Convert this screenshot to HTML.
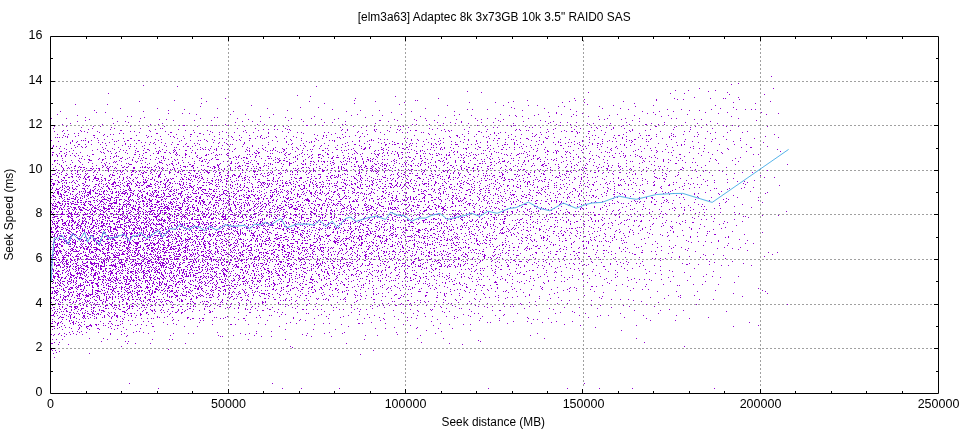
<!DOCTYPE html><html><head><meta charset="utf-8"><title>Seek plot</title><style>html,body{margin:0;padding:0;background:#fff;width:960px;height:432px;overflow:hidden}svg{display:block}text{font-family:"Liberation Sans",Arial,sans-serif;font-size:12.5px;fill:#000}</style></head><body><svg width="960" height="432" viewBox="0 0 960 432"><rect width="960" height="432" fill="#fff"/><path d="M228.5 40v348M405.5 40v348M583.5 40v348M760.5 40v348M54 348.5h878M54 304.5h878M54 259.5h878M54 214.5h878M54 170.5h878M54 125.5h878M54 81.5h878" stroke="#a0a0a0" stroke-width="1" stroke-dasharray="2 2" fill="none"/><g stroke="#9400d3" stroke-width="1" fill="none"><path d="M771 76.5h1" stroke-dasharray="1 960"/><path d="M738 83.5h1" stroke-dasharray="1 960"/><path d="M731 84.5h1" stroke-dasharray="1 960"/><path d="M143 85.5h1" stroke-dasharray="1 960"/><path d="M177 86.5h140" stroke-dasharray="1 138 1 960"/><path d="M699 88.5h75" stroke-dasharray="1 73 1 960"/><path d="M675 90.5h41" stroke-dasharray="1 12 1 26 1 960"/><path d="M467 91.5h242" stroke-dasharray="1 240 1 960"/><path d="M481 92.5h247" stroke-dasharray="1 106 1 138 1 960"/><path d="M108 93.5h577" stroke-dasharray="1 561 1 13 1 960"/><path d="M729 94.5h36" stroke-dasharray="1 34 1 960"/><path d="M297 95.5h1" stroke-dasharray="1 960"/><path d="M310 96.5h86" stroke-dasharray="1 84 1 960"/><path d="M694 97.5h45" stroke-dasharray="1 43 1 960"/><path d="M201 98.5h525" stroke-dasharray="1 23 1 129 1 82 1 135 1 99 1 35 1 12 1 1 1 960"/><path d="M584 99.5h156" stroke-dasharray="1 71 1 20 1 5 1 55 1 960"/><path d="M174 100.5h483" stroke-dasharray="1 179 1 60 1 1 1 109 1 47 1 80 1 960"/><path d="M139 101.5h632" stroke-dasharray="1 66 1 102 1 65 1 137 1 55 1 53 1 146 1 960"/><path d="M404 102.5h330" stroke-dasharray="1 64 1 25 1 12 1 53 1 21 1 148 1 960"/><path d="M201 103.5h555" stroke-dasharray="1 122 1 29 1 279 1 120 1 960"/><path d="M75 104.5h513" stroke-dasharray="1 31 1 291 1 187 1 960"/><path d="M251 105.5h465" stroke-dasharray="1 195 1 55 1 24 1 8 1 75 1 39 1 61 1 960"/><path d="M200 106.5h436" stroke-dasharray="1 357 1 5 1 34 1 35 1 960"/><path d="M300 107.5h434" stroke-dasharray="1 17 1 192 1 221 1 960"/><path d="M120 108.5h601" stroke-dasharray="1 36 1 59 1 49 1 157 1 88 1 29 1 57 1 17 1 99 1 960"/><path d="M184 109.5h572" stroke-dasharray="1 147 1 134 1 4 1 14 1 82 1 57 1 38 1 13 1 29 1 24 1 8 1 5 1 3 1 960"/><path d="M94 110.5h606" stroke-dasharray="1 73 1 118 1 72 1 18 1 142 1 166 1 9 1 960"/><path d="M60 111.5h614" stroke-dasharray="1 82 1 89 1 112 1 64 1 42 1 121 1 65 1 16 1 13 1 960"/><path d="M96 112.5h666" stroke-dasharray="1 8 1 285 1 156 1 7 1 96 1 51 1 21 1 33 1 960"/><path d="M168 113.5h611" stroke-dasharray="1 13 1 6 1 366 1 25 1 64 1 70 1 59 1 960"/><path d="M57 114.5h710" stroke-dasharray="1 138 1 33 1 14 1 27 1 83 1 43 1 57 1 40 1 37 1 22 1 11 1 43 1 37 1 31 1 78 1 960"/><path d="M77 115.5h592" stroke-dasharray="1 273 1 20 1 9 1 55 1 15 1 16 1 37 1 5 1 18 1 41 1 32 1 24 1 33 1 960"/><path d="M127 116.5h605" stroke-dasharray="1 3 1 128 1 53 1 105 1 95 1 5 1 26 1 21 1 16 1 9 1 62 1 69 1 960"/><path d="M85 117.5h361" stroke-dasharray="1 58 1 69 1 2 1 51 1 15 1 79 1 79 1 960"/><path d="M51 118.5h688" stroke-dasharray="1 14 1 45 1 27 1 59 1 36 1 53 1 19 1 26 1 86 1 49 1 11 1 7 1 32 1 78 1 17 1 13 1 31 1 4 1 61 1 960"/><path d="M89 119.5h613" stroke-dasharray="1 69 1 6 1 81 1 52 1 19 1 12 1 59 1 19 1 41 1 24 1 21 1 95 1 4 1 16 1 72 1 6 1 960"/><path d="M85 120.5h672" stroke-dasharray="1 87 1 20 1 16 1 76 1 90 2 16 1 18 1 9 1 7 1 42 1 20 1 41 1 91 1 123 1 960"/><path d="M77 121.5h634" stroke-dasharray="1 39 1 7 1 13 1 102 1 9 1 7 1 42 1 41 1 42 1 72 1 38 1 22 1 21 1 7 1 85 1 70 1 960"/><path d="M128 122.5h558" stroke-dasharray="1 106 1 88 1 7 1 104 1 12 1 10 1 19 1 11 1 56 1 9 1 6 1 8 1 49 1 37 1 20 1 960"/><path d="M70 123.5h648" stroke-dasharray="1 42 1 48 1 212 1 67 1 11 1 12 1 44 1 34 1 38 1 5 1 16 1 40 1 45 1 19 1 960"/><path d="M62 124.5h645" stroke-dasharray="1 39 1 47 1 7 1 66 1 31 1 6 1 50 1 26 1 2 1 66 1 3 1 12 1 126 1 13 1 18 1 39 1 15 2 11 1 5 1 41 1 960"/><path d="M179 125.5h554" stroke-dasharray="1 3 2 22 1 4 1 3 1 11 1 46 1 30 2 14 1 117 1 36 1 29 1 5 1 1 1 19 1 24 1 48 1 13 1 57 1 41 1 8 1 960"/><path d="M54 126.5h714" stroke-dasharray="1 11 1 26 1 6 1 29 1 17 1 15 1 32 1 46 1 29 1 8 1 4 1 64 1 12 1 7 1 23 1 1 1 2 1 81 1 25 1 13 1 50 1 23 1 20 1 33 2 19 1 18 1 30 1 11 1 28 1 960"/><path d="M81 127.5h621" stroke-dasharray="1 29 1 228 1 20 1 28 1 17 1 60 1 23 1 3 1 31 1 2 1 7 1 30 1 19 1 4 1 9 1 6 1 60 1 15 1 10 1 960"/><path d="M53 128.5h660" stroke-dasharray="1 38 1 21 1 25 1 19 1 1 1 74 1 17 1 29 1 143 1 7 1 117 1 24 1 16 1 15 1 10 1 87 1 960"/><path d="M88 129.5h603" stroke-dasharray="1 21 1 44 1 22 1 84 1 4 1 5 1 2 1 9 1 1 1 52 1 4 1 26 1 1 1 20 1 2 1 31 1 11 1 19 1 22 1 28 1 2 1 27 1 5 1 20 1 36 1 20 1 17 1 22 1 16 1 960"/><path d="M63 130.5h668" stroke-dasharray="1 3 1 12 1 39 2 27 1 35 1 7 1 13 1 37 1 12 1 31 1 50 1 5 1 18 1 7 1 12 1 11 1 10 1 4 2 24 1 6 1 2 1 63 1 4 1 5 1 1 1 35 1 29 1 6 1 27 1 2 1 12 1 84 1 960"/><path d="M54 131.5h694" stroke-dasharray="1 7 1 18 1 2 1 12 1 32 1 3 1 15 1 14 1 44 1 11 1 20 1 38 1 75 1 16 1 13 1 55 1 3 1 18 1 9 2 6 1 61 1 12 1 4 1 4 2 3 1 11 2 40 1 29 1 23 1 4 1 17 1 39 1 960"/><path d="M87 132.5h656" stroke-dasharray="1 11 1 39 1 30 2 22 1 17 1 6 1 6 1 7 1 11 1 6 1 14 1 19 1 8 1 3 1 22 1 3 1 16 1 11 1 22 1 15 1 5 1 4 1 13 1 1 1 57 1 12 1 5 1 4 1 34 1 5 1 30 1 1 1 25 1 20 1 70 1 17 1 11 1 14 1 960"/><path d="M64 133.5h647" stroke-dasharray="1 9 1 3 1 40 1 3 1 32 2 41 2 67 1 34 1 31 1 26 1 65 1 39 1 25 1 3 1 33 1 20 1 23 1 10 1 50 1 31 1 38 1 960"/><path d="M57 134.5h718" stroke-dasharray="1 10 1 35 1 5 1 2 1 54 1 7 1 13 2 11 1 5 1 9 1 94 1 16 1 10 1 24 1 16 1 44 1 5 1 26 1 13 1 13 1 20 1 9 1 14 1 4 1 62 1 18 1 32 1 16 1 9 1 14 1 75 1 960"/><path d="M63 135.5h609" stroke-dasharray="1 14 1 14 2 8 1 32 1 9 1 81 1 10 1 9 1 11 1 55 1 5 1 2 1 28 1 58 1 41 2 38 1 11 1 26 1 56 1 2 1 18 1 3 2 20 1 5 1 1 2 21 1 960"/><path d="M65 136.5h701" stroke-dasharray="1 1 1 7 1 31 1 40 1 2 1 8 1 9 1 2 1 9 1 6 1 6 1 16 1 16 1 25 1 2 1 7 1 6 1 10 1 6 1 29 1 21 1 3 1 10 1 3 1 84 1 7 1 6 1 9 1 8 1 4 1 26 1 16 1 1 1 13 1 26 1 10 1 39 1 29 1 12 1 3 1 1 1 18 1 2 1 25 1 41 1 960"/><path d="M55 137.5h724" stroke-dasharray="1 1 1 1 1 2 1 4 1 26 1 52 1 26 1 57 1 8 1 18 1 5 1 9 1 19 1 29 1 10 1 1 1 3 1 15 1 90 1 8 1 26 1 21 1 30 1 5 1 8 1 10 1 23 1 8 1 14 1 8 1 15 1 30 1 108 1 960"/><path d="M85 138.5h670" stroke-dasharray="1 11 1 25 1 6 2 45 1 6 1 34 1 2 1 26 2 4 1 6 1 1 1 19 1 16 1 13 1 6 1 17 1 37 1 25 1 2 1 23 1 7 1 3 1 45 1 4 1 3 2 20 1 5 2 18 2 67 1 6 1 19 1 8 1 10 1 42 1 9 1 24 1 13 1 960"/><path d="M104 139.5h623" stroke-dasharray="1 7 1 42 1 5 1 42 1 7 1 13 1 6 1 5 1 50 1 25 1 54 1 8 1 3 1 2 1 23 1 5 1 8 1 7 1 29 1 3 1 36 1 5 1 1 1 14 1 31 1 8 1 19 1 4 1 7 1 23 1 7 2 10 1 3 1 20 1 13 1 26 1 13 1 960"/><path d="M51 140.5h690" stroke-dasharray="1 20 1 8 1 1 1 1 1 5 1 6 1 19 1 8 2 5 1 3 2 18 1 22 1 8 1 7 1 1 1 5 1 7 1 21 1 3 1 8 1 22 1 18 1 9 1 16 1 10 1 2 1 1 1 24 1 9 1 1 1 1 1 37 1 6 1 21 1 27 1 7 1 16 1 3 1 18 1 14 1 7 1 42 1 26 1 19 1 1 1 108 1 960"/><path d="M58 141.5h676" stroke-dasharray="1 13 1 4 1 10 1 25 1 1 1 7 1 54 1 27 1 69 1 8 1 19 1 4 1 2 1 19 1 17 1 6 1 7 1 24 1 30 1 14 1 12 1 8 1 15 1 10 1 48 1 6 1 14 1 15 1 7 1 19 1 4 1 4 1 3 1 9 1 5 1 13 1 1 1 35 1 7 1 18 1 21 1 960"/><path d="M70 142.5h694" stroke-dasharray="1 5 1 11 1 9 1 3 1 6 1 31 1 3 1 4 1 3 1 6 1 10 1 40 1 5 1 4 1 19 1 23 1 17 1 22 1 1 1 35 1 30 1 5 1 9 1 11 1 21 1 14 1 11 1 7 1 16 1 6 1 17 1 8 1 5 1 22 1 9 1 4 1 1 1 7 1 2 1 7 1 9 1 41 1 44 1 21 1 64 1 960"/><path d="M70 143.5h589" stroke-dasharray="1 34 1 19 1 10 1 16 1 11 1 20 1 7 1 2 1 20 1 7 1 17 1 47 1 10 1 20 1 20 1 18 1 16 1 7 1 7 2 3 1 7 1 1 1 3 1 14 1 3 1 4 1 36 1 19 1 16 1 50 1 11 1 14 1 4 2 3 1 55 1 960"/><path d="M66 144.5h681" stroke-dasharray="1 11 2 5 1 5 1 8 1 13 1 10 1 4 1 18 1 5 1 15 1 5 2 6 1 13 1 27 1 2 1 1 1 10 1 24 1 19 1 2 1 50 1 11 2 13 1 15 2 5 1 1 2 6 1 6 1 14 1 6 1 4 1 2 1 11 1 3 3 9 1 3 1 3 1 28 2 1 1 6 1 2 1 5 1 14 1 2 1 13 1 18 1 4 1 12 1 7 1 19 1 3 1 9 1 31 1 14 1 2 1 34 1 14 1 11 1 960"/><path d="M53 145.5h652" stroke-dasharray="1 20 1 31 1 15 1 21 1 19 1 30 1 26 1 29 1 9 1 37 1 3 1 9 1 6 1 6 1 8 1 10 1 10 1 25 1 25 1 21 1 53 1 2 1 11 1 27 1 4 1 24 2 18 1 7 1 8 1 26 1 5 1 16 1 29 1 3 1 22 1 960"/><path d="M53 146.5h715" stroke-dasharray="1 2 1 3 1 16 1 3 1 4 1 41 1 1 1 3 1 7 1 23 1 16 1 3 2 3 1 18 1 6 1 10 1 12 1 9 1 52 1 7 1 6 1 24 1 15 1 8 1 38 1 6 1 5 1 35 1 19 1 19 1 22 1 4 1 41 1 1 1 11 1 2 1 15 1 14 1 23 1 26 1 25 1 73 1 960"/><path d="M52 147.5h700" stroke-dasharray="1 22 1 6 1 2 1 16 1 15 1 40 1 14 1 1 1 23 1 4 1 41 1 17 1 9 1 16 1 3 1 38 1 5 1 23 1 3 1 11 1 6 1 10 1 6 2 23 1 1 1 2 1 4 1 2 1 5 1 17 1 10 2 7 1 14 1 5 1 4 1 4 1 11 1 13 1 51 1 9 1 7 1 10 1 28 1 16 1 17 1 50 1 8 2 960"/><path d="M59 148.5h669" stroke-dasharray="1 4 1 6 1 33 1 6 1 16 1 6 1 7 1 10 1 34 1 11 1 7 1 5 1 4 1 13 1 13 1 8 1 3 1 10 1 8 1 3 1 10 1 5 1 15 1 5 1 1 1 25 1 7 1 2 2 3 1 13 1 18 2 36 1 3 1 8 1 9 1 1 2 8 1 11 1 5 1 28 1 14 1 25 1 14 1 7 1 24 1 5 1 26 1 5 1 42 1 5 1 4 1 22 1 960"/><path d="M66 149.5h712" stroke-dasharray="1 30 1 5 1 10 1 5 1 26 2 13 1 11 1 4 1 17 1 2 1 2 1 1 1 2 1 5 1 1 1 7 1 2 1 6 1 11 1 16 1 9 1 9 2 7 1 5 1 11 1 1 1 23 2 10 1 2 1 11 2 16 2 3 1 17 1 3 1 2 1 15 1 2 1 9 1 1 1 23 1 10 1 12 1 10 2 3 1 7 1 18 1 10 1 38 1 15 1 10 1 27 1 26 1 62 1 48 1 960"/><path d="M73 150.5h645" stroke-dasharray="1 18 1 14 1 15 1 2 1 8 1 7 1 5 1 9 1 6 1 6 1 1 1 9 2 5 1 16 1 6 1 12 1 17 1 1 1 6 1 8 1 4 1 1 1 2 1 8 1 17 1 4 1 14 2 4 1 12 1 2 1 1 1 7 1 20 1 2 1 4 1 4 1 25 1 5 1 1 1 11 1 16 1 31 1 1 1 51 1 9 1 7 1 1 1 15 1 7 1 29 1 23 1 15 1 4 1 16 1 43 1 960"/><path d="M60 151.5h721" stroke-dasharray="2 7 1 30 1 7 1 1 1 8 1 17 2 17 1 1 1 1 1 13 1 57 1 12 1 3 1 7 1 9 1 9 1 5 1 11 1 15 1 43 1 18 1 17 1 2 1 20 1 3 1 3 1 29 1 2 1 31 1 4 1 29 1 4 1 6 1 10 2 7 1 1 1 6 1 1 1 22 1 14 1 15 1 11 1 7 1 15 1 4 1 40 1 42 1 33 1 960"/><path d="M52 152.5h670" stroke-dasharray="2 12 1 13 1 20 1 1 1 12 1 8 1 9 1 9 2 11 1 5 2 3 1 3 1 2 1 14 1 3 1 17 1 40 1 3 2 19 1 1 1 4 1 15 1 22 1 6 1 9 1 13 1 26 1 3 1 9 1 3 2 4 1 1 1 39 1 3 1 3 1 8 1 4 1 24 1 1 1 27 1 18 1 7 1 2 1 9 1 2 1 12 1 18 1 5 1 1 1 46 1 11 1 2 1 17 1 18 1 12 1 960"/><path d="M59 153.5h664" stroke-dasharray="1 4 1 7 1 3 1 27 1 6 1 3 1 11 1 15 1 9 1 3 2 11 1 5 1 8 1 9 1 15 1 15 2 26 2 1 1 11 1 1 1 12 1 4 1 10 1 25 1 20 1 5 1 2 1 4 1 8 1 2 1 4 1 2 1 4 1 3 1 5 1 18 2 5 1 1 1 3 1 6 1 1 1 30 1 11 1 1 1 7 1 9 1 9 1 7 1 1 1 1 1 32 1 13 1 18 1 25 1 3 1 3 1 74 1 23 1 960"/><path d="M52 154.5h707" stroke-dasharray="1 3 1 9 1 25 2 40 2 3 1 35 1 1 1 7 2 19 1 1 1 7 1 2 1 1 1 4 1 20 1 1 1 2 1 31 1 3 2 9 1 4 1 2 1 4 1 5 3 6 2 23 1 7 1 14 1 1 2 15 1 3 1 3 1 27 1 1 1 6 1 1 1 4 1 2 1 4 1 5 1 2 1 9 1 1 1 2 1 12 1 12 1 1 1 10 2 8 1 19 1 17 1 10 1 58 1 43 2 31 1 40 1 4 1 960"/><path d="M52 155.5h650" stroke-dasharray="1 4 1 3 1 3 1 4 1 3 1 3 1 8 1 28 1 25 1 7 1 25 1 2 1 5 1 11 1 7 2 8 1 1 1 9 2 10 1 16 1 28 1 11 1 13 1 6 1 3 1 14 1 5 1 34 1 5 1 3 1 9 1 21 1 15 2 8 1 1 2 11 1 4 1 3 1 5 1 9 1 20 1 2 1 5 1 12 1 3 1 1 1 56 1 3 1 15 1 10 1 1 1 4 1 6 1 16 1 17 1 28 1 960"/><path d="M57 156.5h628" stroke-dasharray="1 3 1 3 1 9 1 6 1 6 1 15 1 4 1 3 1 1 1 1 1 20 1 21 1 1 1 25 1 6 1 38 1 2 1 11 1 4 1 3 1 7 2 1 1 24 1 6 1 6 1 13 1 9 1 14 1 12 1 14 1 5 1 15 1 9 1 6 1 4 1 3 1 43 1 21 1 36 1 5 1 27 1 8 1 7 1 19 1 5 1 4 1 10 1 4 1 9 1 3 1 1 1 7 1 34 1 960"/><path d="M113 157.5h628" stroke-dasharray="1 8 1 6 1 3 1 9 1 12 1 6 1 7 1 10 1 2 1 11 1 3 1 13 1 17 1 2 1 1 1 4 2 1 1 8 1 19 1 10 1 6 1 1 1 12 1 3 1 5 2 8 1 3 1 3 3 5 1 6 1 3 1 11 1 9 1 24 1 3 1 2 2 21 1 11 1 5 1 7 1 2 1 2 1 9 1 12 1 10 1 20 1 5 1 13 1 5 1 16 1 3 1 6 1 4 1 5 1 14 1 13 2 9 1 15 1 10 1 3 1 20 1 63 1 960"/><path d="M62 158.5h674" stroke-dasharray="1 16 1 1 1 17 1 5 1 4 1 9 2 5 1 10 1 2 1 3 2 11 1 4 1 1 1 26 1 6 2 11 1 16 2 10 1 4 2 13 1 6 2 1 1 5 1 1 1 4 1 12 1 13 1 9 1 9 2 10 1 3 1 1 1 3 1 1 1 6 1 7 1 2 1 25 1 1 1 11 1 6 2 3 1 15 1 4 1 16 1 9 1 1 1 13 1 2 1 9 1 8 1 1 1 19 1 3 2 17 1 23 1 4 1 4 1 51 1 2 1 11 1 22 1 12 1 16 1 24 1 960"/><path d="M84 159.5h632" stroke-dasharray="1 3 2 8 1 3 2 21 1 6 1 17 1 4 1 12 1 5 1 2 1 26 1 1 1 4 1 4 3 17 1 38 1 2 1 10 1 7 1 7 1 43 1 5 1 6 1 4 2 3 1 2 1 6 1 1 1 2 1 6 1 19 1 12 1 3 1 14 1 34 1 2 1 5 1 8 1 31 1 5 1 2 1 6 1 3 1 2 1 18 1 15 1 3 1 9 1 59 1 4 1 46 1 960"/><path d="M54 160.5h679" stroke-dasharray="2 1 1 4 1 8 1 6 1 10 3 10 1 16 1 12 1 7 1 1 1 18 1 2 1 10 1 6 1 16 1 2 1 6 1 33 1 7 1 2 1 10 1 7 1 5 2 2 2 18 1 14 1 14 1 11 1 22 1 1 1 22 1 2 1 10 1 4 1 9 1 15 2 3 1 11 1 4 1 2 1 6 1 6 1 26 1 8 1 4 1 5 1 3 1 24 1 2 1 9 1 40 1 18 1 16 1 19 1 6 1 7 1 3 1 33 1 15 1 960"/><path d="M54 161.5h685" stroke-dasharray="1 10 1 13 1 34 1 1 1 4 1 13 1 1 1 21 1 12 1 21 1 6 2 2 1 17 1 3 1 3 1 16 1 7 1 22 1 6 2 7 1 7 1 6 2 1 1 4 1 2 1 1 2 2 1 2 1 9 1 2 1 3 1 1 1 6 2 5 1 2 1 3 1 1 1 4 1 13 1 2 1 16 1 9 1 13 1 4 1 1 1 12 1 8 1 17 1 1 1 9 1 4 1 2 3 3 1 15 1 3 1 11 1 3 1 18 1 6 1 9 1 8 1 40 1 1 1 11 1 4 1 4 1 8 1 45 1 28 1 960"/><path d="M63 162.5h633" stroke-dasharray="1 8 1 7 1 7 1 12 1 4 1 6 1 1 1 20 1 8 1 13 3 16 1 4 1 4 1 19 1 22 1 6 1 5 1 5 1 24 1 1 2 10 1 3 1 20 1 9 1 7 2 7 1 9 1 4 1 6 1 18 1 13 1 7 1 1 1 17 2 4 1 4 1 8 1 3 1 6 1 7 2 25 2 6 1 8 1 15 1 37 1 16 1 15 1 9 1 37 1 25 1 16 1 6 1 2 1 960"/><path d="M57 163.5h662" stroke-dasharray="1 34 1 11 1 4 1 16 1 1 1 12 1 7 1 7 1 4 1 8 2 5 1 15 1 12 1 12 1 9 2 3 1 1 1 8 3 8 2 5 1 3 1 1 1 10 1 7 3 9 1 3 1 4 1 19 1 3 1 11 1 16 1 10 1 3 1 2 1 5 1 6 1 4 1 5 1 7 1 4 1 2 1 6 1 18 1 20 1 10 2 1 1 2 1 10 1 3 1 9 1 7 1 14 1 10 1 3 1 22 1 14 1 20 1 10 1 7 1 12 1 35 2 41 1 960"/><path d="M52 164.5h736" stroke-dasharray="1 6 1 10 1 11 1 22 1 11 1 11 3 15 1 18 1 2 1 2 1 3 1 12 2 26 1 1 1 32 1 5 1 11 1 1 1 10 1 5 1 12 2 1 1 7 1 2 1 5 1 10 1 8 1 1 1 1 1 7 1 20 2 5 1 1 2 16 1 2 1 2 1 11 1 4 1 18 1 29 2 15 1 30 1 2 1 16 2 11 1 2 1 8 1 8 1 10 1 11 1 51 1 83 1 51 1 960"/><path d="M61 165.5h645" stroke-dasharray="1 4 1 8 1 20 1 5 1 2 1 15 1 33 1 11 1 5 1 6 1 11 2 7 1 1 1 13 2 10 1 9 1 2 1 2 1 18 1 1 1 22 1 7 1 12 1 16 1 3 1 26 1 2 1 3 1 6 1 7 1 3 1 1 1 2 1 3 1 16 2 3 1 1 1 2 1 10 1 1 1 1 1 7 1 6 2 4 1 4 1 28 1 3 1 10 1 9 1 16 1 1 1 6 2 2 2 27 1 2 1 7 1 7 1 14 1 3 1 5 1 35 1 42 1 7 1 960"/><path d="M55 166.5h699" stroke-dasharray="1 5 1 12 2 3 1 12 1 10 1 3 1 2 1 1 1 11 1 3 1 13 1 2 1 8 1 3 1 24 3 1 1 3 2 14 2 4 2 3 1 8 1 7 1 2 3 6 2 4 1 2 1 6 1 4 1 13 1 36 1 18 1 2 1 9 1 2 2 2 1 1 1 4 2 4 1 1 1 8 1 3 1 14 1 1 1 2 1 4 1 6 1 9 1 7 1 16 1 6 1 5 1 10 2 8 2 17 1 6 1 3 1 3 1 9 1 11 1 14 1 7 1 4 1 24 1 6 1 4 1 9 1 1 1 5 1 6 1 24 1 1 1 3 1 88 1 960"/><path d="M62 167.5h665" stroke-dasharray="1 5 1 2 1 6 1 1 2 1 2 17 1 3 1 2 1 5 1 6 2 2 2 5 2 5 1 1 1 1 2 1 1 1 1 1 1 4 1 2 1 2 1 10 1 6 1 4 1 7 1 3 1 12 1 3 2 2 1 11 1 6 1 21 2 14 1 26 2 2 1 1 1 7 1 8 1 8 1 3 1 2 1 1 1 15 1 1 1 2 1 7 1 5 1 11 1 4 1 32 1 7 1 10 1 4 1 8 1 6 2 3 1 7 1 19 1 48 1 8 1 5 1 5 1 10 1 1 1 13 1 2 1 9 1 7 1 19 1 6 1 35 1 7 1 10 1 24 1 960"/><path d="M53 168.5h631" stroke-dasharray="1 9 1 3 1 1 1 4 1 11 1 3 2 1 1 2 1 1 2 7 2 5 1 1 1 16 2 13 1 10 1 1 1 1 1 3 1 6 1 2 1 15 1 18 1 1 1 4 1 4 1 5 1 4 1 2 1 1 1 6 1 3 1 2 1 1 1 3 1 7 1 3 1 8 1 11 1 1 1 2 1 2 1 7 1 3 1 5 2 10 2 5 1 2 1 2 1 21 2 2 2 3 1 3 1 4 2 6 1 37 1 8 1 14 1 6 1 2 1 7 2 3 1 9 1 2 1 1 1 7 1 9 1 36 1 10 1 15 1 10 2 10 1 8 2 14 1 7 1 17 1 10 1 7 1 15 1 960"/><path d="M56 169.5h640" stroke-dasharray="1 6 1 16 1 3 1 7 1 6 1 8 1 16 1 25 2 2 1 6 1 7 1 1 1 1 1 6 1 19 1 2 1 13 1 2 1 2 1 5 1 11 1 3 1 11 1 17 1 9 1 10 1 15 1 8 1 4 1 13 1 4 1 6 1 5 1 1 2 9 1 3 1 5 1 5 1 9 1 6 1 2 1 2 2 8 1 3 1 23 1 7 1 3 1 4 2 9 1 10 1 16 1 3 1 1 1 6 1 1 1 2 2 12 1 2 1 9 1 28 1 1 1 25 1 12 1 8 1 1 1 11 1 11 1 6 1 17 2 13 1 960"/><path d="M55 170.5h713" stroke-dasharray="1 2 1 5 1 7 1 2 1 1 1 10 3 4 1 3 1 5 1 2 1 4 1 3 1 2 1 2 1 8 2 6 1 6 1 5 1 11 1 17 2 4 1 1 1 1 2 8 1 1 1 3 1 4 1 17 1 9 1 10 1 6 1 17 1 4 1 1 1 9 2 12 1 3 2 7 3 6 1 12 3 23 1 1 1 4 1 7 1 3 1 5 1 5 1 7 1 6 1 7 1 9 1 8 1 1 1 2 1 24 1 8 1 11 1 16 1 7 1 25 1 6 1 20 1 8 1 15 1 10 1 82 1 12 1 13 1 47 1 960"/><path d="M62 171.5h661" stroke-dasharray="1 8 1 5 1 4 1 2 1 8 1 13 1 7 1 3 1 1 1 4 1 4 2 2 1 2 1 4 1 5 1 3 1 2 1 3 1 7 1 5 1 2 1 1 1 1 1 11 1 3 1 7 2 5 1 2 1 6 1 4 1 20 1 3 3 1 1 14 1 14 1 2 1 1 1 4 1 2 1 2 1 2 1 3 1 2 1 1 1 6 2 11 1 2 2 7 1 7 1 3 1 6 1 4 1 1 1 1 2 1 1 5 1 7 1 12 1 5 1 9 1 2 1 6 1 3 1 7 2 2 1 6 1 12 1 5 1 4 1 7 1 18 1 11 1 7 1 8 1 4 1 4 1 21 3 1 1 5 1 7 1 5 1 7 1 14 1 19 1 7 1 4 1 6 1 15 1 26 1 6 1 18 1 960"/><path d="M57 172.5h696" stroke-dasharray="1 3 1 15 1 15 1 3 1 15 1 7 1 9 1 3 1 5 1 1 1 1 2 4 1 8 1 8 2 6 2 9 2 10 1 3 1 2 3 5 1 3 2 7 1 13 1 2 1 8 1 13 1 1 1 1 1 7 1 4 1 6 1 4 1 7 1 3 1 20 1 28 1 1 1 15 1 6 1 13 1 5 1 18 1 17 1 5 1 5 1 4 1 9 1 30 1 1 1 5 1 18 1 3 1 3 1 15 1 8 1 11 1 22 2 7 1 4 1 10 2 8 1 32 1 15 1 30 1 32 1 9 1 960"/><path d="M55 173.5h680" stroke-dasharray="1 3 1 6 1 4 1 3 1 9 1 1 1 29 1 6 1 17 2 6 1 5 1 3 1 8 1 10 1 9 1 5 2 10 1 10 1 7 1 12 1 20 1 2 1 2 1 3 1 6 2 1 1 26 1 19 1 15 1 13 2 6 1 9 1 20 1 3 1 7 2 1 1 4 1 4 1 8 1 18 1 2 1 4 1 1 1 22 1 2 1 4 1 10 1 25 1 12 1 1 1 15 1 6 1 18 1 16 1 9 1 13 1 8 1 18 1 10 1 68 1 960"/><path d="M52 174.5h675" stroke-dasharray="3 6 1 5 1 4 1 4 2 1 1 5 1 9 1 3 1 9 1 1 1 7 1 1 1 8 2 5 1 1 1 11 1 6 2 3 1 9 1 6 1 2 2 15 1 12 1 5 1 12 2 5 1 13 1 1 2 2 1 8 1 3 1 6 1 9 1 1 1 2 1 1 1 8 1 4 1 6 3 17 1 3 1 2 1 1 1 8 1 21 1 12 1 1 1 3 1 5 2 17 1 2 1 6 1 2 1 3 1 19 1 9 2 7 1 23 2 10 2 1 1 6 1 3 2 13 2 17 1 1 1 4 1 11 1 5 1 25 1 18 1 2 1 5 1 24 1 11 1 47 1 960"/><path d="M56 175.5h705" stroke-dasharray="1 8 2 18 1 7 1 8 1 6 1 2 3 16 1 10 1 5 1 9 2 29 1 1 1 1 1 1 1 3 1 19 1 5 1 1 2 3 1 1 2 3 1 5 1 16 1 4 2 7 1 54 2 1 1 3 1 1 1 17 1 1 1 4 1 19 1 4 1 7 1 6 1 1 1 7 3 11 2 6 2 7 1 2 1 9 1 4 1 18 1 1 1 1 1 1 1 3 2 7 1 16 1 2 1 11 1 17 1 6 1 5 1 96 1 14 1 10 1 11 1 11 1 47 1 960"/><path d="M51 176.5h625" stroke-dasharray="1 6 1 12 2 3 1 2 1 4 1 3 2 5 1 13 1 9 1 7 1 14 1 12 1 2 2 5 1 10 1 7 1 8 1 1 1 1 1 3 1 12 1 2 1 3 1 6 1 3 1 5 2 1 1 5 1 4 1 2 1 7 1 1 1 16 1 28 1 2 1 5 1 5 2 2 1 5 1 1 1 12 1 1 1 6 1 8 1 7 1 4 1 16 1 1 1 6 1 23 2 6 1 1 1 6 1 15 1 7 1 3 1 7 1 6 1 6 2 15 1 1 1 11 1 9 1 15 1 3 1 17 1 5 1 12 1 8 1 20 1 26 1 11 1 8 1 960"/><path d="M58 177.5h717" stroke-dasharray="1 4 2 3 2 2 1 5 1 1 1 3 1 2 2 5 2 5 1 9 1 7 1 3 1 2 1 2 1 5 1 1 1 5 1 2 1 5 1 5 1 1 1 20 1 4 1 3 1 4 2 2 1 2 1 18 1 8 1 7 1 5 2 3 1 3 1 1 1 17 1 5 1 11 1 2 1 5 2 5 2 11 1 9 1 3 2 1 1 2 1 6 1 6 1 6 1 9 1 11 3 12 1 4 1 14 2 6 1 10 1 10 2 3 1 1 1 2 1 3 1 11 1 19 1 7 1 1 1 22 1 8 1 8 1 9 1 1 2 7 1 1 1 5 1 6 1 5 1 4 1 2 1 22 1 36 2 40 1 66 1 9 1 960"/><path d="M64 178.5h670" stroke-dasharray="1 18 1 1 1 8 5 5 2 11 1 5 1 3 1 2 1 5 1 11 1 3 1 13 1 3 1 1 2 8 1 5 1 9 1 2 2 4 1 4 1 13 2 8 1 5 1 1 1 22 1 5 1 4 1 16 2 2 3 9 1 3 2 2 1 7 1 3 1 22 2 4 1 1 1 4 1 5 1 13 1 2 1 2 1 3 1 8 1 10 1 1 2 9 1 2 1 6 1 7 1 8 1 10 1 12 1 2 1 2 1 13 1 2 1 10 1 7 1 51 1 5 1 20 1 10 1 4 1 10 1 3 1 3 1 4 1 14 1 1 1 3 2 15 1 10 1 41 1 960"/><path d="M51 179.5h677" stroke-dasharray="2 8 1 17 1 5 2 2 1 3 1 4 1 2 1 3 1 4 1 3 1 8 1 9 1 9 1 1 1 4 2 2 1 9 1 3 1 2 1 8 1 1 2 2 1 1 2 1 1 2 1 8 1 12 1 1 1 1 1 3 1 5 1 14 1 2 1 6 1 2 2 13 1 17 1 18 1 31 1 1 1 11 1 3 1 14 1 1 1 1 1 1 1 10 1 9 1 4 1 3 1 11 1 4 1 13 1 1 1 5 1 2 1 18 1 16 1 1 1 5 1 7 1 2 2 1 2 6 1 15 1 1 1 6 2 3 1 10 1 3 1 9 1 6 1 22 1 16 1 1 1 21 1 19 1 37 1 23 1 960"/><path d="M55 180.5h700" stroke-dasharray="1 1 1 4 2 1 2 6 1 2 1 12 1 6 2 4 1 2 1 2 2 9 1 2 1 5 1 3 1 12 1 1 1 6 1 9 1 2 2 21 1 6 1 2 1 6 1 3 2 2 1 2 1 2 1 4 1 9 1 1 1 3 1 1 1 4 1 17 3 2 1 4 1 2 1 1 1 6 1 9 1 7 1 5 1 12 1 1 2 14 1 1 1 2 1 7 1 3 1 3 1 1 1 3 1 1 1 13 1 3 1 3 1 14 1 3 1 16 1 29 1 5 1 2 1 10 1 3 2 8 1 7 2 8 1 9 1 9 1 5 1 1 1 9 1 10 1 6 1 18 1 31 1 9 1 11 1 43 1 20 1 6 1 39 1 960"/><path d="M51 181.5h694" stroke-dasharray="1 6 1 2 1 10 1 4 1 7 1 6 1 6 1 1 1 12 1 11 1 2 1 3 1 3 1 5 1 2 1 9 2 2 2 5 1 6 1 4 1 1 1 10 1 6 1 12 1 7 1 5 2 3 1 2 1 23 2 13 1 1 1 1 1 8 1 6 1 2 1 8 1 4 1 4 1 6 1 14 1 13 1 7 1 9 1 2 1 6 2 4 1 9 1 14 1 5 1 5 1 5 1 6 1 8 1 3 1 10 1 4 1 9 1 4 1 15 1 13 1 7 1 2 1 4 1 2 2 8 1 3 1 1 1 35 1 15 1 13 1 2 1 10 1 22 1 6 1 9 1 40 1 31 1 6 1 960"/><path d="M58 182.5h690" stroke-dasharray="2 4 1 1 1 2 1 1 1 2 1 10 1 22 1 4 3 2 1 1 1 3 1 5 1 6 2 1 1 2 4 11 1 1 1 5 1 2 2 12 1 2 1 11 1 4 2 1 1 1 2 5 1 2 1 3 1 9 1 14 1 1 1 7 1 2 1 1 3 17 1 2 1 3 2 6 1 5 1 6 1 1 1 6 2 2 1 13 1 3 1 1 1 13 1 3 1 10 1 3 1 20 1 3 1 4 3 26 2 8 1 17 1 2 1 10 1 19 1 26 1 2 1 1 1 3 1 14 1 7 1 15 1 14 1 6 1 11 1 26 1 19 1 19 1 2 1 37 1 12 1 19 1 960"/><path d="M52 183.5h692" stroke-dasharray="3 7 1 3 1 8 1 6 2 15 1 1 1 4 1 2 1 2 2 1 1 6 1 4 3 1 1 3 1 3 1 4 1 5 1 4 1 7 1 1 1 4 1 1 1 2 1 1 1 1 1 3 1 5 2 19 2 14 1 10 1 6 1 6 1 9 1 1 1 1 1 1 1 1 1 1 1 5 1 4 1 2 3 2 1 2 1 12 1 5 1 3 1 10 1 1 1 1 1 2 1 1 1 7 2 5 1 2 2 17 1 8 1 6 3 5 1 7 1 2 1 2 1 3 1 6 1 1 3 1 1 6 1 2 1 3 1 3 1 10 1 2 2 5 2 4 1 6 1 10 1 1 1 5 1 27 1 26 1 11 1 13 1 3 1 20 1 3 1 4 1 10 1 9 1 11 1 36 1 3 1 4 1 49 1 960"/><path d="M53 184.5h693" stroke-dasharray="2 2 1 20 1 5 1 10 2 1 1 4 1 1 1 5 3 6 1 6 1 3 1 4 1 6 1 6 2 2 1 2 1 2 1 3 2 3 1 9 2 2 1 2 1 10 1 11 1 2 1 3 1 1 1 7 1 3 1 4 1 1 1 2 1 11 1 8 1 2 1 2 1 1 1 2 1 3 1 14 1 3 1 5 1 7 1 3 1 1 1 5 1 1 1 5 1 15 1 1 1 3 2 2 1 4 1 1 1 2 1 5 2 4 1 7 1 5 1 4 1 3 1 3 1 14 1 3 2 3 1 5 1 15 2 5 1 5 1 5 1 1 1 17 1 5 1 7 1 13 1 9 1 2 1 2 1 14 1 11 1 2 1 5 1 19 1 2 2 6 1 6 1 10 1 1 1 7 1 2 1 10 1 11 1 14 1 3 1 16 1 6 1 3 1 43 1 960"/><path d="M51 185.5h729" stroke-dasharray="1 1 1 8 1 1 1 7 1 6 1 3 1 2 2 1 1 8 1 8 1 8 3 4 1 2 3 7 2 1 1 1 2 4 3 5 1 9 1 2 1 11 1 1 1 6 2 3 1 7 2 2 1 8 1 14 1 1 1 7 1 3 1 13 1 1 1 1 1 5 1 10 2 2 1 2 1 1 1 9 2 3 2 4 1 6 2 16 3 9 1 2 1 10 1 8 1 2 1 3 1 15 1 2 2 3 1 3 1 4 1 4 1 1 1 2 1 11 1 2 1 7 2 16 1 13 1 4 1 7 1 12 1 6 2 4 1 6 1 11 1 21 1 1 1 22 1 1 1 11 1 24 2 1 1 6 1 7 1 3 1 12 2 13 2 14 1 22 1 71 1 960"/><path d="M62 186.5h621" stroke-dasharray="1 2 1 1 2 7 2 7 1 2 1 5 2 3 1 3 1 2 2 4 2 1 1 3 1 4 1 2 1 1 1 5 1 10 1 1 4 6 1 6 1 1 1 4 1 11 1 5 2 1 1 22 2 1 1 2 1 2 1 6 1 6 1 4 1 7 1 10 1 4 1 2 1 10 2 9 1 1 1 3 1 4 1 4 1 3 1 2 1 3 1 1 2 1 1 2 1 3 1 4 1 4 2 13 1 2 1 5 2 1 1 10 1 3 2 2 1 1 1 3 1 2 1 1 1 3 1 2 1 3 1 15 1 1 1 11 1 8 1 4 1 4 1 11 1 13 1 3 1 4 1 6 1 5 1 5 1 2 1 3 1 4 1 1 1 9 1 7 1 1 2 15 1 20 1 1 1 26 1 46 1 20 1 960"/><path d="M52 187.5h702" stroke-dasharray="1 7 1 1 1 3 1 2 1 2 1 20 1 7 1 6 1 11 1 8 1 8 2 6 2 7 1 3 1 2 1 1 2 3 1 1 1 8 1 1 1 2 1 1 1 1 1 1 2 4 1 1 3 24 1 3 1 6 1 2 1 2 1 2 2 4 1 2 1 1 2 2 1 4 2 11 1 15 1 8 1 12 1 1 1 2 1 12 1 9 1 5 1 5 2 19 1 11 2 1 1 8 1 4 1 4 1 31 1 4 1 1 1 8 2 10 1 1 1 4 1 19 1 17 2 15 1 2 1 5 1 10 1 1 1 3 1 6 1 11 1 8 1 14 1 3 1 52 1 18 1 14 1 4 1 44 1 8 1 960"/><path d="M52 188.5h690" stroke-dasharray="1 3 1 2 1 4 1 4 1 2 1 2 1 6 3 2 1 7 1 6 1 5 2 4 2 13 2 13 1 7 1 5 1 8 1 13 1 1 1 9 1 4 1 1 1 8 1 8 1 12 1 2 1 13 1 27 1 14 1 8 1 2 2 1 1 6 1 12 1 2 1 9 3 3 1 6 2 5 1 1 2 5 1 2 1 7 1 2 2 2 1 14 1 6 1 4 1 1 1 16 1 6 2 5 1 3 1 11 1 20 1 2 1 1 1 4 1 2 1 1 1 10 1 10 1 20 1 6 1 12 1 11 2 33 1 5 1 17 1 28 1 27 1 24 1 1 1 12 1 11 1 960"/><path d="M51 189.5h677" stroke-dasharray="1 4 3 3 1 4 2 4 2 1 1 7 1 5 1 3 1 3 1 1 1 8 1 1 1 8 1 2 1 4 1 1 1 11 1 23 1 1 1 2 1 2 1 1 1 1 1 7 2 5 1 4 1 3 4 3 3 2 1 1 1 5 1 13 1 5 1 10 1 10 1 9 2 4 1 1 1 8 1 2 1 6 2 17 1 16 1 16 1 17 1 1 1 38 1 4 1 2 1 6 1 2 1 2 1 3 1 5 1 7 1 1 1 1 1 11 2 1 1 2 1 5 2 14 1 7 1 24 1 12 1 2 1 13 1 6 1 8 1 15 1 5 1 12 1 13 1 3 1 10 1 35 1 7 1 43 1 960"/><path d="M55 190.5h656" stroke-dasharray="1 5 1 2 1 4 1 15 1 4 1 1 2 3 1 6 1 1 1 18 2 2 3 2 1 3 1 1 1 8 1 4 3 4 1 1 1 1 1 4 1 2 1 2 1 7 1 7 1 3 1 4 1 3 1 7 1 10 3 11 1 1 2 2 1 3 1 2 1 7 1 10 2 4 1 7 1 2 1 5 1 4 1 8 1 1 1 6 1 3 1 8 1 7 1 4 3 3 1 5 1 11 1 10 1 7 1 16 1 15 1 5 2 8 1 4 1 19 1 6 2 5 1 5 1 5 1 2 2 8 1 8 1 4 1 17 1 2 1 4 1 2 1 33 1 5 1 13 1 11 1 6 1 28 1 7 1 20 1 37 1 960"/><path d="M57 191.5h694" stroke-dasharray="2 6 2 5 2 5 1 1 1 1 1 1 1 3 2 2 1 5 1 1 1 1 2 2 1 2 1 1 1 3 1 1 1 1 1 2 2 8 1 5 2 2 2 7 1 2 1 2 1 10 3 2 1 6 2 12 1 6 1 5 1 4 2 1 1 2 1 3 1 3 2 4 1 3 2 9 2 1 1 1 1 3 1 3 1 12 1 1 1 1 1 2 1 4 1 1 1 1 1 12 1 5 1 5 1 6 1 8 1 2 2 16 1 18 1 10 2 9 1 3 1 15 2 6 1 1 1 2 1 6 1 9 1 1 1 24 1 9 1 23 1 10 1 6 1 21 1 12 1 14 1 4 1 3 1 8 1 16 1 27 1 8 1 17 1 7 1 50 1 28 1 960"/><path d="M54 192.5h714" stroke-dasharray="1 2 2 5 2 2 1 10 1 5 1 1 4 4 1 7 1 8 1 2 2 1 1 3 1 2 2 3 2 9 1 5 1 4 1 1 1 1 1 1 1 4 1 12 1 4 1 6 1 3 1 5 1 4 1 19 1 7 1 14 1 12 1 6 1 3 1 1 2 2 1 3 1 1 1 4 1 3 1 10 1 3 1 3 2 3 1 1 1 2 1 1 1 5 1 4 2 9 1 3 1 4 2 2 2 2 1 9 1 1 1 9 1 2 1 2 1 14 1 1 1 28 1 3 1 3 1 8 1 8 1 8 1 3 1 10 1 2 2 10 1 9 1 18 1 6 2 1 1 5 1 4 1 13 1 5 1 15 1 17 1 9 1 2 1 21 1 2 1 13 1 8 1 2 1 36 1 61 1 960"/><path d="M53 193.5h713" stroke-dasharray="1 3 2 1 1 9 1 6 1 4 1 1 1 4 2 4 3 1 1 3 1 7 2 6 1 1 5 1 1 4 2 4 1 7 2 2 1 2 1 9 2 3 1 4 2 3 4 11 4 1 1 5 4 1 1 1 1 3 1 7 2 1 1 2 1 3 2 1 1 27 1 13 1 9 1 2 1 5 1 6 1 5 2 2 1 4 2 3 1 2 2 9 1 5 1 7 1 3 1 3 1 1 1 1 1 4 2 3 1 10 1 5 1 7 1 6 1 14 3 14 1 1 1 2 1 11 1 2 1 13 1 4 1 2 1 14 1 9 1 32 1 1 1 12 1 5 1 9 1 9 1 26 1 12 1 2 1 20 1 11 1 7 1 9 1 20 1 3 1 19 1 46 1 960"/><path d="M58 194.5h662" stroke-dasharray="1 1 2 1 1 6 1 1 1 3 1 2 1 7 2 1 1 8 3 2 1 1 1 1 1 9 1 5 1 2 1 2 1 2 1 3 1 4 1 4 1 3 1 1 1 3 1 3 1 2 1 4 1 2 1 5 1 1 1 4 1 1 1 2 1 10 2 7 1 8 1 1 2 2 1 9 1 7 1 2 1 4 2 2 1 5 1 10 1 1 1 2 1 9 1 6 1 2 2 2 1 1 1 7 1 3 1 5 1 4 1 6 1 3 1 1 1 24 1 1 1 1 1 19 2 28 2 4 1 3 3 9 1 5 1 1 1 16 2 12 1 10 1 4 1 1 1 12 1 1 3 9 1 3 2 11 1 5 1 10 1 1 1 6 1 4 1 6 1 21 1 11 2 5 1 3 1 8 1 35 1 11 1 12 1 24 1 960"/><path d="M52 195.5h682" stroke-dasharray="2 7 1 2 1 1 2 7 1 5 1 2 1 1 1 1 1 9 1 10 1 6 1 1 1 1 1 9 1 1 1 2 1 1 1 3 2 6 2 1 1 3 3 5 1 5 1 2 1 1 1 4 1 1 1 23 1 1 1 3 3 5 1 5 2 1 1 4 1 4 1 1 1 2 1 3 2 3 2 2 1 2 1 4 1 4 1 1 1 6 1 6 1 10 1 7 1 7 1 3 1 7 1 12 1 6 1 9 1 2 1 11 1 11 1 9 1 3 1 6 1 1 1 19 1 5 1 20 2 2 1 12 2 11 1 2 1 7 1 6 1 10 1 1 1 7 1 4 1 3 1 5 1 12 1 5 1 22 1 2 1 4 1 2 1 2 2 12 1 18 1 50 1 56 1 960"/><path d="M53 196.5h645" stroke-dasharray="2 4 3 11 1 2 1 5 1 1 1 2 1 4 1 2 1 1 1 4 1 1 1 6 1 10 1 3 1 2 2 6 1 1 1 2 1 2 1 5 1 1 1 1 2 4 1 1 1 2 5 10 1 5 2 2 1 4 2 2 1 6 1 1 1 4 1 2 1 1 1 9 1 1 1 1 1 5 1 3 1 5 1 4 1 9 1 5 3 3 1 6 1 13 1 1 2 10 1 2 1 14 1 2 1 6 1 4 1 1 1 1 1 14 1 13 1 3 2 5 1 7 1 13 1 5 1 7 1 15 1 7 1 4 1 5 1 17 1 6 1 2 1 10 1 2 1 1 1 12 1 5 2 8 1 12 1 22 1 9 1 14 1 2 1 5 1 11 1 10 1 4 1 66 1 960"/><path d="M51 197.5h708" stroke-dasharray="1 3 1 5 1 2 1 4 1 5 1 1 1 2 1 3 1 5 2 1 1 7 1 1 1 3 1 3 2 2 4 9 2 8 1 2 1 2 2 10 1 1 3 1 1 13 1 4 1 4 1 1 3 4 1 3 2 10 1 1 1 2 2 15 1 2 1 7 1 1 3 1 1 7 1 2 1 9 1 8 1 2 1 1 1 2 1 1 1 2 1 5 1 17 1 13 1 7 1 3 1 6 1 7 1 7 1 17 1 6 2 3 1 9 1 1 1 1 1 2 1 1 1 7 2 6 2 3 1 1 1 13 1 3 1 7 1 13 1 4 1 25 1 4 1 10 2 28 1 1 1 5 1 3 1 1 1 4 1 16 1 3 1 21 1 21 1 6 1 4 2 9 2 15 1 3 1 14 1 12 1 25 1 20 1 960"/><path d="M59 198.5h668" stroke-dasharray="1 2 1 4 1 3 3 1 1 4 1 1 1 5 1 5 1 9 1 3 3 3 1 13 1 10 1 2 1 2 1 3 1 14 1 1 1 6 2 2 2 5 1 2 1 8 1 2 2 11 1 6 2 2 1 1 1 3 1 5 1 11 2 6 1 1 3 3 1 2 2 2 1 15 3 6 1 6 1 4 1 8 1 1 1 7 1 1 1 13 1 2 2 2 1 14 1 1 1 4 2 6 1 3 1 1 1 6 1 2 1 11 1 2 1 2 1 8 1 1 1 13 1 8 1 3 1 3 1 1 1 2 1 3 2 13 1 4 1 4 1 3 1 4 1 3 1 2 1 5 1 9 1 7 1 2 1 17 1 16 1 16 1 13 1 14 1 15 1 8 1 7 1 5 1 73 1 960"/><path d="M53 199.5h676" stroke-dasharray="1 1 1 8 1 2 3 4 2 2 1 7 1 10 1 4 5 3 1 5 1 2 3 2 1 3 1 1 1 1 1 4 2 7 1 1 2 2 1 2 1 5 2 2 1 5 2 2 1 1 1 6 1 3 1 3 2 9 1 3 1 4 1 7 1 8 2 5 1 2 3 14 1 1 1 4 1 9 1 3 1 9 1 2 3 12 4 10 2 5 1 2 2 5 1 3 2 13 1 1 1 5 1 5 1 7 2 2 1 14 2 4 1 1 1 2 1 2 1 2 2 1 1 2 1 14 2 3 2 4 1 6 1 3 1 6 1 6 1 8 1 3 1 24 1 8 1 29 1 31 1 59 1 14 1 11 1 17 1 10 1 27 1 4 1 960"/><path d="M63 200.5h696" stroke-dasharray="1 13 1 2 2 11 2 1 1 2 1 1 1 5 2 1 1 3 1 1 1 2 1 5 2 2 1 1 1 1 1 8 2 5 3 5 1 3 1 21 2 2 1 7 2 2 1 1 2 12 2 1 2 1 1 1 1 3 2 16 1 1 1 2 1 17 1 3 2 2 1 7 1 4 1 14 1 1 4 5 1 5 1 3 1 5 1 1 1 19 1 2 1 5 1 6 1 3 1 16 1 1 2 1 1 7 2 1 1 17 1 6 2 8 1 7 1 8 1 1 1 1 1 9 1 5 1 5 1 1 1 4 1 9 1 4 1 11 1 9 1 2 1 4 2 3 1 9 1 2 1 1 1 13 1 9 1 4 1 2 1 23 1 21 1 29 1 2 1 5 1 35 1 48 1 960"/><path d="M54 201.5h673" stroke-dasharray="1 3 1 3 1 1 2 1 2 3 2 3 1 7 2 1 3 6 1 2 3 6 1 6 1 7 1 2 2 4 1 1 1 2 1 1 1 1 3 2 1 2 2 5 3 3 1 1 1 4 1 2 1 2 1 7 2 2 1 1 2 3 2 2 1 2 3 5 1 12 1 5 1 3 1 1 1 16 1 1 1 3 1 3 1 5 1 7 1 5 1 1 2 11 2 9 2 3 1 1 1 9 1 12 3 8 1 2 3 1 2 7 1 7 1 11 1 2 1 5 1 2 2 1 1 10 1 6 1 1 2 2 1 3 1 12 1 10 1 5 2 1 1 4 1 14 1 6 1 8 2 3 1 7 1 2 1 2 1 3 1 14 1 9 2 4 1 4 1 2 1 1 1 4 1 28 1 6 1 14 1 13 1 3 1 1 1 2 1 3 1 6 1 4 1 9 1 59 1 960"/><path d="M57 202.5h706" stroke-dasharray="3 10 1 4 1 1 2 1 2 1 1 1 1 4 1 3 1 5 1 2 1 2 1 6 4 6 1 5 1 6 1 2 1 9 1 6 3 9 1 1 2 2 1 4 1 3 1 14 1 1 1 2 2 4 2 4 3 8 1 1 1 4 1 3 1 1 1 3 1 1 1 2 1 11 1 8 2 1 1 13 1 1 1 4 1 2 1 5 1 25 1 2 1 17 1 28 1 2 1 9 1 16 1 5 1 13 1 4 1 18 1 12 1 21 1 4 1 6 1 4 1 8 1 8 1 33 1 4 1 9 1 2 1 16 1 2 1 1 1 21 1 20 1 11 1 11 1 4 1 25 1 30 1 36 1 960"/><path d="M51 203.5h669" stroke-dasharray="1 1 1 1 1 3 2 1 1 2 1 1 2 2 3 10 1 3 1 10 1 4 1 4 4 1 3 2 1 6 1 1 1 7 1 6 1 2 2 3 1 9 1 1 1 5 2 1 1 3 1 3 1 1 1 1 1 1 2 10 1 1 1 2 1 5 1 8 1 4 1 1 1 1 1 1 1 3 1 7 1 4 1 1 1 4 1 2 1 1 1 1 1 3 2 2 1 12 1 26 1 2 2 10 2 8 1 3 2 1 1 24 1 9 1 2 1 10 1 1 1 10 1 37 1 4 1 6 2 9 1 4 3 2 1 2 1 10 1 1 1 5 1 1 1 13 1 23 2 3 1 7 1 11 1 2 1 15 1 5 1 19 1 3 1 2 1 1 1 6 1 1 1 4 1 7 1 24 1 10 1 7 1 38 1 960"/><path d="M52 204.5h691" stroke-dasharray="1 3 1 5 1 2 1 2 1 2 1 2 4 3 1 1 2 4 3 6 1 2 1 1 1 1 1 5 1 7 2 2 3 1 4 7 2 3 1 2 1 2 1 2 1 1 3 2 1 1 1 2 1 1 1 4 2 9 1 6 1 3 1 6 1 3 2 2 1 2 1 2 1 1 1 5 1 6 1 1 1 2 1 2 2 5 1 2 1 1 1 5 1 1 1 4 1 3 1 1 1 6 1 9 1 2 1 1 2 6 1 1 1 4 1 8 1 2 3 2 1 4 1 1 1 3 2 1 1 4 1 2 1 5 1 7 1 5 1 1 1 10 1 1 1 9 1 1 1 9 1 2 3 2 1 7 1 7 1 8 2 31 1 1 1 5 1 35 1 3 1 8 3 5 1 16 1 9 1 9 1 7 1 3 1 61 1 10 2 42 1 3 1 39 1 960"/><path d="M52 205.5h668" stroke-dasharray="2 1 1 4 2 2 1 19 2 4 1 1 1 2 1 1 1 10 3 12 1 2 1 3 1 2 1 1 1 8 1 2 1 3 1 5 1 6 1 3 1 7 3 3 1 5 1 3 1 3 1 5 1 3 1 6 2 3 1 10 1 4 2 5 1 2 1 2 1 1 1 4 1 6 1 4 1 2 1 3 1 5 2 4 2 5 1 2 1 4 1 2 1 5 1 5 1 3 1 2 1 1 1 2 1 4 1 2 1 1 1 2 1 1 1 5 1 1 1 7 1 5 2 2 1 1 1 8 2 17 1 10 1 2 2 3 3 9 1 6 1 1 1 6 1 9 1 3 1 1 1 7 1 2 1 6 1 22 1 16 1 48 1 1 1 15 1 17 1 4 1 20 1 57 1 30 1 960"/><path d="M54 206.5h681" stroke-dasharray="4 6 1 2 2 1 1 7 2 13 1 5 1 1 1 1 1 4 1 1 1 1 1 1 1 2 1 1 1 2 1 1 1 1 1 2 1 3 1 1 1 3 1 3 1 2 2 2 3 2 1 4 3 2 3 3 1 1 1 1 1 6 1 2 1 1 1 4 1 20 1 4 1 5 1 1 1 8 1 4 1 3 1 9 2 2 1 1 1 2 1 1 1 6 1 1 1 2 1 5 1 4 1 2 2 5 2 18 1 9 1 14 1 3 1 3 1 15 1 3 2 8 3 24 1 4 1 1 1 12 1 3 1 5 2 1 1 2 1 6 2 2 1 18 1 7 1 6 1 1 1 12 2 16 1 11 2 1 1 23 1 15 1 16 1 11 1 19 1 16 1 17 1 39 1 2 1 29 1 960"/><path d="M52 207.5h700" stroke-dasharray="1 4 1 2 1 2 1 7 1 1 3 2 1 1 1 1 2 3 1 4 1 1 2 2 1 4 2 6 1 10 1 3 1 4 2 5 3 13 2 2 2 4 2 1 2 4 1 1 1 2 4 6 1 1 1 1 3 2 1 4 1 5 1 1 1 4 1 10 1 3 1 4 1 3 1 1 1 11 1 3 1 4 1 2 1 11 2 2 2 6 3 4 1 4 2 7 1 3 1 6 1 5 1 2 1 13 1 1 1 3 1 4 1 1 1 7 2 1 1 2 1 1 1 3 1 10 1 1 1 1 1 1 2 1 1 9 1 9 2 4 1 3 2 6 1 2 1 3 2 3 1 2 1 13 2 7 1 6 1 5 1 7 1 1 1 13 1 2 1 7 1 19 1 9 1 29 1 12 1 7 1 19 1 51 1 6 1 2 1 5 1 60 1 960"/><path d="M53 208.5h668" stroke-dasharray="3 3 1 1 1 6 2 4 2 3 1 3 2 6 1 2 3 6 4 1 2 1 3 2 1 2 1 1 2 5 1 3 3 3 1 2 1 7 2 1 1 6 1 1 1 1 2 1 4 1 1 7 2 6 2 5 1 2 1 7 1 1 1 5 1 1 1 5 1 1 1 1 1 4 1 5 1 4 1 2 1 6 1 4 1 4 1 8 1 1 1 4 1 1 2 8 1 3 3 1 1 6 1 3 1 2 1 2 1 5 2 14 1 5 3 2 1 3 1 1 1 8 1 7 2 4 1 6 1 1 1 2 1 1 2 3 1 2 1 7 1 4 1 17 1 5 1 5 3 30 1 10 1 4 1 4 1 2 1 26 1 4 1 5 1 6 1 1 1 8 1 3 1 21 1 1 1 3 1 13 1 33 1 10 1 26 1 2 1 38 1 5 1 960"/><path d="M52 209.5h655" stroke-dasharray="1 1 1 4 1 1 2 1 1 2 1 4 1 1 1 1 1 2 3 3 2 2 1 1 1 5 2 1 1 3 1 2 3 8 3 1 1 3 1 5 1 1 2 1 2 4 1 6 1 7 1 8 1 1 1 2 1 2 3 2 2 4 2 5 1 3 2 7 2 1 1 10 1 8 2 4 1 3 1 9 2 3 1 5 1 3 1 4 1 4 1 1 1 4 1 1 2 9 4 3 1 11 1 2 1 4 1 4 1 4 1 9 1 9 1 1 2 11 1 1 2 3 1 14 1 3 3 1 1 6 1 6 1 5 1 9 1 3 2 4 1 6 3 20 1 12 1 19 1 2 1 4 1 9 1 9 1 1 1 10 1 7 1 17 1 13 1 2 1 16 1 6 1 11 1 10 1 1 1 9 1 6 1 9 1 9 1 14 1 8 1 9 1 2 1 960"/><path d="M68 210.5h623" stroke-dasharray="1 4 1 6 3 4 2 3 1 2 1 3 1 1 2 3 1 7 1 4 1 8 1 1 1 4 1 2 1 6 1 5 4 2 1 2 3 1 2 2 1 9 2 5 1 1 1 1 1 5 2 1 1 9 1 2 1 4 1 6 1 3 1 2 2 8 1 2 1 3 1 1 2 2 1 5 1 10 1 7 1 1 1 18 1 2 1 11 1 1 1 9 1 3 2 2 1 2 1 8 1 2 1 5 1 7 1 2 2 6 2 4 1 25 1 4 1 1 1 6 1 3 3 16 1 2 1 5 2 1 1 3 1 4 1 18 1 2 1 5 1 11 1 12 1 9 1 10 1 12 1 8 1 52 1 4 1 55 1 9 1 5 1 960"/><path d="M51 211.5h736" stroke-dasharray="1 4 1 1 1 3 1 3 1 1 1 6 1 14 1 2 3 4 1 2 1 1 1 2 2 4 1 1 1 1 2 2 2 2 2 3 1 5 1 1 2 1 1 3 1 1 4 5 1 2 1 10 1 2 2 5 1 8 1 2 1 3 2 1 1 1 1 2 1 7 1 1 1 3 1 3 1 5 1 1 1 6 1 2 1 4 2 6 1 5 3 3 1 2 1 5 1 1 1 5 1 2 1 8 1 6 2 6 2 4 1 2 1 6 1 5 1 1 1 6 1 1 1 7 1 17 1 7 1 3 1 2 1 1 1 10 1 1 1 7 2 2 1 11 2 11 1 5 1 15 1 1 1 12 2 5 1 1 1 20 1 3 1 3 2 6 1 3 1 5 1 1 1 4 1 1 1 17 1 10 1 7 1 2 1 27 1 5 1 12 1 11 1 14 1 8 1 124 1 960"/><path d="M51 212.5h684" stroke-dasharray="1 1 1 3 1 4 1 6 1 1 1 3 1 2 1 1 1 3 1 5 1 3 1 8 2 13 1 4 1 5 2 2 1 4 1 4 1 1 1 1 1 2 1 2 1 6 1 1 1 1 3 13 1 4 2 2 1 12 1 5 1 6 1 1 1 4 1 5 1 3 1 3 1 2 2 7 1 9 1 8 1 1 3 2 1 4 1 5 1 1 1 17 1 5 2 8 1 8 1 9 1 9 1 3 1 12 1 8 1 13 1 1 1 7 1 2 1 10 1 4 1 24 1 24 1 4 1 7 2 4 1 13 2 3 1 4 1 3 1 7 1 8 1 22 1 8 1 2 2 18 1 1 1 2 1 26 1 28 1 49 1 4 1 15 1 13 1 960"/><path d="M52 213.5h688" stroke-dasharray="1 8 2 5 4 2 1 2 1 7 1 1 1 1 1 2 1 3 1 3 1 5 1 3 3 3 1 5 2 2 1 1 2 7 2 1 1 2 1 5 1 2 1 1 1 2 1 1 2 3 2 2 2 4 1 2 2 2 1 5 1 1 1 2 1 1 1 6 1 1 2 3 1 2 1 1 1 4 1 1 1 2 1 10 1 5 1 13 3 3 1 22 1 6 1 8 1 10 1 2 3 9 1 4 2 2 1 11 1 2 1 2 1 2 1 1 2 2 1 1 1 8 1 3 1 6 1 19 1 2 1 1 1 11 1 1 1 5 1 4 1 4 1 3 1 9 1 2 1 1 2 2 1 4 1 2 3 7 1 8 1 23 1 18 1 5 1 13 2 5 1 4 1 5 1 41 1 7 1 14 1 14 1 10 1 4 1 17 1 11 1 43 1 960"/><path d="M51 214.5h685" stroke-dasharray="1 1 1 2 2 2 5 2 1 3 2 1 4 5 4 4 2 7 4 9 1 2 2 2 2 8 1 4 2 6 1 1 2 2 1 1 2 1 2 2 1 5 1 4 2 3 1 8 1 1 1 6 1 11 1 1 2 3 1 1 1 9 1 1 1 4 3 3 1 7 2 7 2 4 1 9 1 7 1 5 1 6 1 3 3 5 1 1 1 1 1 3 1 3 1 6 2 8 1 6 1 1 1 1 2 18 1 3 1 4 1 10 1 6 2 9 1 4 1 11 1 1 1 9 1 2 1 1 1 1 2 11 1 3 1 2 1 2 1 17 1 1 1 1 1 5 1 2 2 9 1 4 1 18 2 22 1 4 1 10 1 7 1 2 1 8 1 8 1 3 2 6 1 7 1 1 1 13 1 9 1 22 1 2 1 47 1 20 1 960"/><path d="M53 215.5h726" stroke-dasharray="1 14 1 2 1 7 1 3 1 9 1 5 1 3 1 3 1 5 1 6 1 1 1 1 1 2 1 4 1 6 1 7 1 9 2 11 1 1 1 3 3 3 1 1 1 3 2 7 3 2 1 3 1 3 1 5 1 5 1 2 1 7 3 2 1 3 1 2 1 4 1 7 1 2 1 4 2 3 1 4 1 2 1 4 2 7 1 1 2 4 1 9 1 4 1 5 1 2 1 8 1 10 1 2 1 6 1 2 1 12 1 5 1 5 1 7 1 4 1 3 1 8 1 3 1 2 1 2 1 19 1 14 2 4 1 5 1 2 1 25 1 2 1 8 1 1 1 18 1 17 1 26 1 14 1 5 2 19 1 12 1 11 1 38 1 24 1 57 1 15 1 960"/><path d="M54 216.5h692" stroke-dasharray="4 3 1 5 3 1 2 4 2 8 4 7 1 3 1 1 2 3 1 1 1 6 1 4 1 1 1 1 1 2 1 2 2 1 1 1 1 2 1 3 1 7 5 1 1 7 1 1 1 2 1 1 1 1 1 3 2 1 3 8 1 8 3 3 1 11 5 2 2 7 2 2 2 3 1 2 1 1 1 3 1 10 1 2 1 1 1 2 1 2 1 4 3 12 1 3 1 14 1 1 2 5 1 5 1 2 1 19 1 10 1 12 1 1 2 5 1 6 2 5 1 2 1 6 1 8 1 7 1 21 1 1 1 1 1 4 1 7 1 11 1 11 1 12 2 24 1 1 1 6 1 6 1 27 1 6 1 37 1 11 1 5 1 5 1 7 1 7 1 18 1 19 1 12 1 31 1 1 1 960"/><path d="M52 217.5h697" stroke-dasharray="3 5 1 7 1 1 1 5 1 5 1 1 1 4 1 2 1 7 1 1 1 2 1 1 2 4 4 1 1 3 1 1 1 1 2 7 1 2 2 3 1 2 1 1 1 6 2 5 1 4 2 5 1 7 1 1 1 1 1 5 1 4 1 2 1 2 1 1 1 2 2 3 1 1 1 6 2 1 1 8 1 5 1 1 1 3 1 3 2 1 1 1 1 13 1 5 1 8 1 1 1 3 1 4 1 3 1 1 3 6 2 8 1 1 1 1 1 5 2 2 1 1 1 14 1 3 1 8 1 3 1 5 1 2 1 1 1 8 1 3 1 4 1 1 1 6 1 12 1 38 1 2 2 1 1 4 1 9 1 4 1 8 2 1 1 33 1 13 1 5 1 1 1 2 2 5 1 3 1 23 1 11 1 16 1 42 1 29 1 55 1 960"/><path d="M57 218.5h658" stroke-dasharray="2 12 2 9 2 1 1 4 1 1 1 6 1 5 1 2 2 8 4 3 2 1 1 2 1 2 2 2 1 1 1 3 3 2 1 6 1 4 1 6 3 5 2 3 1 3 1 1 1 3 2 7 1 10 3 2 1 1 1 5 2 1 1 2 1 4 1 7 1 8 1 9 1 1 1 8 1 1 2 6 1 5 3 9 1 4 3 11 1 1 1 10 1 5 2 13 1 8 2 4 1 4 1 7 1 9 1 19 1 20 2 3 1 6 1 1 1 6 2 4 1 21 1 5 1 5 1 9 2 16 1 68 1 12 1 4 1 43 1 2 1 37 1 19 1 960"/><path d="M53 219.5h682" stroke-dasharray="1 7 2 9 1 6 1 5 1 3 1 2 1 3 1 5 2 13 1 3 2 1 1 4 2 3 1 1 1 8 1 3 1 1 1 1 1 2 1 1 2 1 2 1 1 4 1 4 1 6 1 5 1 3 2 1 5 1 2 9 2 6 1 1 1 1 4 5 1 1 1 14 2 7 1 1 1 1 1 1 1 14 1 2 1 10 1 7 1 8 1 8 1 11 1 8 1 1 1 1 2 15 1 1 1 4 1 3 1 14 2 3 1 2 1 7 1 3 1 3 1 6 1 6 2 4 1 1 1 1 2 3 1 9 2 9 2 9 1 4 1 3 1 12 1 1 1 3 1 1 1 1 1 12 1 2 2 8 1 6 1 4 1 2 1 2 1 11 1 7 1 11 1 10 1 9 1 25 1 1 1 71 1 4 1 27 1 960"/><path d="M51 220.5h635" stroke-dasharray="1 6 2 2 1 4 1 1 1 1 3 4 1 3 1 1 1 7 3 2 1 1 1 5 1 1 1 1 1 2 1 6 1 4 1 3 2 6 1 2 1 3 1 3 1 2 1 2 1 3 1 1 3 1 3 2 1 1 1 3 1 1 1 12 1 17 1 35 1 2 2 6 1 3 1 3 1 11 1 18 2 4 1 4 1 3 1 6 1 2 2 2 1 1 3 11 1 1 1 2 1 1 1 1 1 6 1 3 1 8 1 2 2 10 1 7 1 2 1 4 1 2 1 2 1 2 2 4 1 8 3 15 1 6 1 6 1 7 1 6 1 2 1 3 1 13 1 21 1 2 1 3 1 6 1 28 1 1 1 5 1 4 1 19 1 6 1 2 1 3 1 12 1 8 1 1 1 7 1 1 1 4 1 7 1 16 1 18 1 960"/><path d="M52 221.5h691" stroke-dasharray="1 1 1 1 1 1 1 3 1 3 1 2 1 2 2 1 1 3 1 2 2 1 2 5 1 4 1 3 2 4 1 2 3 4 3 4 1 4 2 6 2 7 1 2 1 8 1 4 2 4 1 7 1 1 1 1 1 2 1 11 1 1 1 3 1 12 1 6 1 8 2 1 2 1 1 4 1 7 2 8 2 10 1 7 2 3 1 10 1 7 1 2 1 2 1 2 1 2 1 15 1 3 1 6 2 7 1 2 1 3 1 1 1 3 1 13 1 4 1 2 1 7 1 8 1 6 1 11 1 5 1 20 1 19 2 3 1 2 1 7 1 16 2 28 1 3 1 9 1 18 1 3 1 5 2 6 1 7 1 2 1 2 1 35 1 5 2 29 1 10 1 30 1 10 1 17 1 960"/><path d="M52 222.5h676" stroke-dasharray="1 4 1 6 2 3 1 1 1 2 2 2 1 3 1 3 1 1 1 3 1 2 1 5 2 13 2 1 1 6 3 1 1 1 3 1 1 4 3 1 2 1 1 3 1 12 1 1 1 3 4 2 1 1 1 9 2 6 3 3 1 2 2 2 2 1 1 5 1 8 2 4 1 4 3 11 1 3 1 2 1 1 1 3 2 2 2 2 1 11 1 1 1 3 2 4 1 1 1 13 1 2 1 2 1 7 1 21 1 3 2 2 1 10 2 5 2 22 1 9 3 3 1 2 1 3 1 1 1 1 1 1 1 1 1 1 1 4 1 2 1 2 1 1 1 17 1 2 1 10 1 2 1 4 1 7 1 8 1 14 2 3 1 2 1 5 1 2 1 4 1 16 1 8 1 7 1 36 1 9 1 43 1 10 1 8 1 6 2 33 1 960"/><path d="M53 223.5h671" stroke-dasharray="2 1 2 4 4 2 1 5 1 2 1 3 3 1 1 2 1 2 1 3 1 1 1 1 1 1 1 1 2 1 2 1 1 3 2 9 2 11 1 3 1 2 1 4 1 1 1 1 1 2 1 2 1 1 1 1 1 3 1 2 1 5 1 3 1 1 1 1 1 1 2 1 1 2 1 6 1 1 1 1 1 4 1 1 1 7 2 3 1 9 1 2 1 9 1 9 1 2 2 3 1 1 1 1 1 2 1 1 1 3 1 1 1 3 1 2 1 1 1 6 1 7 2 1 1 6 1 9 1 4 1 2 2 6 1 1 1 2 1 1 1 1 1 1 1 2 1 6 2 9 1 7 1 5 2 2 1 18 1 4 1 4 1 18 1 1 1 1 1 4 1 16 1 2 1 18 1 1 1 11 1 3 2 11 1 10 1 9 1 32 1 12 1 20 1 3 1 3 1 7 1 32 1 8 1 16 1 43 1 960"/><path d="M52 224.5h668" stroke-dasharray="1 1 1 7 1 2 1 2 1 3 1 4 2 2 1 3 1 4 2 4 1 6 1 2 1 2 1 4 1 1 1 1 1 1 3 8 1 1 1 2 1 7 1 1 2 2 1 2 2 1 6 7 1 4 1 2 1 2 3 1 1 8 1 4 2 2 1 1 3 1 1 3 1 2 1 9 1 1 1 2 1 7 1 5 1 3 1 1 1 1 1 10 1 6 1 1 1 4 1 3 1 7 1 4 1 1 1 9 1 7 1 4 2 4 1 1 2 12 1 8 1 11 2 1 1 9 1 6 1 1 1 7 1 12 1 3 1 7 1 11 1 9 1 3 1 7 1 4 1 16 1 2 1 10 1 2 1 2 1 6 1 8 1 10 1 9 1 23 1 15 1 13 1 9 1 8 1 14 1 5 1 27 1 27 1 19 1 18 1 960"/><path d="M55 225.5h682" stroke-dasharray="1 1 1 5 2 1 1 1 2 1 2 3 2 1 2 3 1 8 2 3 1 2 4 15 1 3 1 1 1 1 1 1 1 1 1 1 1 2 1 1 1 8 1 1 1 4 1 5 2 8 1 2 2 1 1 4 1 1 1 2 2 3 1 1 1 3 1 5 1 5 2 4 1 5 1 4 2 4 1 7 3 4 1 4 1 3 1 3 2 1 1 3 1 1 4 5 1 1 1 13 1 4 1 1 1 6 1 3 2 8 1 6 1 6 1 1 1 20 1 2 1 3 2 9 1 14 1 41 2 24 1 2 1 1 1 13 1 6 1 5 1 20 1 1 1 27 1 57 1 9 1 20 1 5 1 23 1 72 1 960"/><path d="M55 226.5h650" stroke-dasharray="1 1 2 12 1 6 1 1 2 3 1 1 1 1 1 3 1 1 2 3 3 2 1 2 3 4 1 1 1 2 1 3 2 2 2 5 1 4 1 4 2 1 1 7 1 5 2 3 1 1 1 1 1 4 1 3 2 5 2 1 2 1 1 3 2 1 1 5 1 5 1 1 2 4 1 3 1 3 1 2 2 1 1 12 1 4 1 3 1 1 1 4 1 1 1 1 1 11 1 1 1 2 1 1 1 8 2 7 1 2 1 17 1 2 1 5 1 13 1 1 1 4 1 1 1 1 1 15 2 4 1 2 1 5 1 1 1 15 2 1 3 23 1 6 1 1 1 2 1 2 1 7 1 1 1 7 1 1 1 3 2 5 1 6 1 4 1 10 1 16 1 9 1 7 1 8 2 3 1 1 1 26 1 4 1 38 1 9 1 11 1 10 1 8 1 1 1 31 1 960"/><path d="M51 227.5h675" stroke-dasharray="1 1 1 2 2 1 1 1 2 4 1 4 1 3 2 2 1 4 1 3 1 2 2 4 1 3 1 4 1 2 2 3 1 1 5 4 1 2 1 5 2 1 1 1 1 2 1 1 2 3 2 9 1 3 1 2 1 3 1 3 1 6 1 1 1 3 1 5 2 6 1 1 1 2 1 1 1 8 1 2 1 6 1 3 3 1 1 6 1 1 1 1 1 1 1 2 2 2 1 1 1 9 1 2 1 4 1 19 2 6 1 5 1 1 2 4 1 7 1 1 2 3 1 1 1 2 1 3 1 6 1 8 1 6 2 9 1 3 1 1 1 6 1 2 1 3 2 1 1 2 1 1 1 27 1 7 1 5 1 5 1 3 1 4 1 2 1 2 1 9 1 4 1 1 1 11 1 5 1 9 1 4 1 8 1 2 1 2 1 20 1 6 1 15 1 1 1 1 1 9 1 6 1 9 1 36 1 25 1 17 1 35 1 960"/><path d="M51 228.5h671" stroke-dasharray="1 3 2 6 1 1 1 3 1 2 1 3 1 1 1 1 1 1 1 4 1 3 2 3 1 1 1 11 1 2 3 6 1 1 1 4 1 1 1 1 2 2 3 1 1 1 2 6 2 2 2 3 1 1 1 2 1 2 1 1 2 4 1 2 1 4 1 2 1 5 1 2 2 7 1 1 2 4 1 5 1 3 1 3 1 3 1 3 1 6 1 3 2 8 2 5 2 10 2 1 3 2 1 3 2 2 1 2 1 2 1 6 1 11 1 3 1 1 1 2 1 1 1 1 1 5 2 1 1 2 1 7 1 1 1 3 2 11 1 2 1 7 1 10 1 1 1 2 1 7 1 8 1 2 1 9 2 4 1 5 1 3 1 5 1 9 1 11 1 14 1 6 1 10 1 4 1 4 1 2 1 20 1 2 1 9 1 16 1 2 1 1 2 2 1 17 1 6 1 9 1 31 1 29 1 18 1 7 1 21 1 960"/><path d="M51 229.5h663" stroke-dasharray="1 3 1 5 2 3 2 3 1 1 2 7 1 1 1 5 1 10 1 1 1 1 1 1 1 2 1 2 4 6 2 8 2 4 1 1 1 4 1 4 1 1 1 3 1 1 1 3 1 1 2 7 2 1 1 1 2 5 1 3 1 11 1 5 1 1 2 5 1 4 1 5 2 1 1 5 1 2 1 24 1 1 2 13 2 2 1 2 1 4 1 4 1 9 1 8 2 1 1 11 1 1 1 8 1 5 1 4 1 2 1 1 1 1 1 5 1 7 1 2 1 4 1 2 1 5 1 1 1 5 1 4 1 11 2 2 1 1 1 5 2 1 2 14 1 1 1 1 1 6 2 6 1 5 1 4 1 14 1 6 2 5 1 2 1 2 1 8 1 15 2 5 1 58 1 13 1 10 1 11 1 7 1 40 1 21 1 960"/><path d="M57 230.5h626" stroke-dasharray="1 8 1 1 2 9 1 2 3 3 1 2 1 2 1 4 2 3 1 3 1 1 1 5 2 6 1 1 2 4 2 2 1 4 1 1 1 2 1 3 1 2 1 1 2 5 2 4 2 13 1 1 1 3 1 1 1 3 2 2 4 1 1 1 1 9 1 9 1 6 1 1 1 4 1 6 1 1 1 1 1 6 1 7 1 6 1 9 1 3 1 3 3 7 3 3 1 4 1 2 1 3 1 5 1 14 1 3 2 1 2 4 1 4 1 4 1 5 1 8 1 5 1 1 1 3 1 14 3 2 1 1 1 5 3 4 1 1 1 2 1 9 1 3 1 5 2 26 1 21 1 8 1 11 1 4 2 2 1 8 1 8 1 12 1 5 1 8 1 23 1 15 1 15 1 7 1 29 1 11 1 960"/><path d="M51 231.5h682" stroke-dasharray="2 3 3 1 1 8 2 5 2 4 1 1 1 3 1 1 1 2 2 3 2 8 1 1 2 1 1 11 1 8 1 8 1 3 1 4 2 3 1 1 2 5 1 1 2 2 1 5 1 12 1 17 1 8 4 1 1 10 1 1 2 2 1 8 1 5 1 6 1 4 1 19 1 7 3 6 1 2 1 1 1 23 1 3 1 5 1 7 2 13 2 2 1 1 1 1 2 13 1 5 1 7 1 12 3 9 1 8 1 1 1 3 1 4 1 20 1 1 1 10 1 11 1 11 1 1 1 19 1 14 1 9 2 5 1 3 1 12 1 5 1 4 1 5 1 2 1 17 1 4 1 8 1 43 1 33 1 1 1 22 1 960"/><path d="M51 232.5h712" stroke-dasharray="3 2 1 6 1 3 2 2 1 4 1 3 1 3 1 1 1 1 2 1 1 4 1 3 2 1 1 1 1 3 1 7 1 4 1 1 1 1 1 2 1 1 1 2 2 1 1 1 1 1 1 1 1 1 1 3 1 2 1 1 1 4 1 2 1 4 1 2 1 1 1 3 1 2 1 1 1 5 1 4 1 1 1 3 1 1 1 1 1 2 2 8 1 1 2 2 1 9 1 5 1 2 1 1 1 8 1 2 1 7 2 3 1 1 2 6 1 11 1 1 3 3 1 4 1 8 1 6 1 6 1 6 2 3 1 2 1 6 1 3 1 7 2 2 1 6 1 12 1 9 1 8 1 1 1 13 2 23 1 10 1 14 1 10 1 12 1 6 1 1 1 1 1 5 1 6 1 27 1 19 1 4 1 9 1 38 1 9 1 3 1 13 1 19 1 5 1 23 1 64 1 960"/><path d="M55 233.5h653" stroke-dasharray="1 2 1 1 1 2 1 1 1 2 2 2 2 7 1 1 1 3 1 1 1 3 2 2 1 4 3 6 2 2 1 1 1 5 2 1 2 2 3 1 1 1 2 5 1 5 1 4 1 3 2 1 1 1 2 1 1 1 1 7 1 4 1 3 1 1 1 7 1 7 1 5 1 2 1 4 1 3 1 2 1 1 3 1 1 1 1 4 2 1 1 1 1 1 2 5 3 11 1 5 1 12 2 9 1 4 1 2 1 2 2 7 1 21 1 5 1 6 1 3 1 12 1 2 2 3 1 15 2 20 1 10 1 2 1 5 2 7 1 1 1 11 1 4 1 3 1 5 1 3 1 13 1 9 1 1 3 9 1 4 1 16 1 17 1 4 1 2 1 9 1 5 1 14 1 11 1 18 1 14 1 10 1 57 1 960"/><path d="M52 234.5h693" stroke-dasharray="1 1 1 2 1 12 1 1 4 4 1 6 1 8 1 5 1 11 1 1 1 5 1 1 1 1 1 3 2 8 1 3 2 2 2 1 2 8 1 7 1 1 1 2 1 2 2 5 1 3 2 2 1 7 1 4 1 2 3 2 2 3 1 5 2 3 1 3 1 4 1 1 1 2 1 1 1 7 1 5 1 1 1 6 1 6 3 14 1 5 1 1 2 8 1 6 1 8 1 3 1 19 1 15 3 4 1 16 1 2 1 1 1 1 1 5 1 11 1 19 1 2 1 9 1 4 1 3 1 11 1 2 2 8 1 4 1 23 1 2 1 7 1 6 1 33 1 25 1 15 1 8 1 18 1 18 1 7 1 53 2 28 1 960"/><path d="M54 235.5h653" stroke-dasharray="1 2 1 1 3 2 1 1 1 5 1 1 1 1 1 3 1 4 1 2 1 1 4 5 1 2 1 4 2 1 3 1 1 1 1 1 1 3 2 2 1 9 1 2 2 1 1 4 1 1 1 1 1 2 5 1 1 2 1 1 1 2 1 1 1 1 1 2 1 2 1 2 1 13 2 7 1 4 2 2 1 3 1 1 2 1 1 12 1 3 1 5 1 4 1 1 3 2 1 1 1 15 1 4 2 11 1 6 1 1 1 5 1 5 1 4 1 5 1 1 3 5 1 16 1 6 1 2 1 2 1 3 1 5 1 2 1 1 1 2 2 4 1 1 2 3 1 4 1 2 1 6 1 2 1 1 1 1 1 3 1 7 2 11 1 22 1 7 1 2 1 11 1 2 1 3 1 9 1 4 1 15 1 3 1 8 1 6 1 8 1 5 2 5 1 5 1 4 1 18 1 24 1 37 1 5 1 14 1 22 1 960"/><path d="M51 236.5h678" stroke-dasharray="1 1 2 2 1 2 3 1 2 4 2 3 1 3 1 5 1 7 1 6 1 1 1 1 3 1 1 5 1 7 1 3 1 3 3 1 4 1 1 4 1 2 1 2 1 1 1 4 1 2 2 5 3 7 3 7 1 4 1 1 1 1 3 1 1 2 1 6 1 1 1 3 1 1 1 5 1 4 1 8 1 15 1 2 1 2 1 2 1 3 1 10 1 6 2 6 1 7 1 4 1 2 1 4 1 4 1 1 2 4 2 9 2 6 1 3 1 3 1 1 1 2 3 4 1 8 1 1 3 6 1 8 2 10 4 1 1 6 1 4 2 1 1 10 1 1 1 10 1 3 1 1 1 6 1 5 1 12 1 2 1 20 1 8 1 26 1 5 1 8 1 17 1 7 2 10 1 8 1 4 1 3 1 13 1 38 1 9 1 12 1 6 1 30 1 960"/><path d="M56 237.5h673" stroke-dasharray="1 9 1 2 2 5 2 3 1 2 1 1 1 2 2 6 2 5 1 4 1 1 2 2 3 3 1 5 1 2 1 12 2 4 2 3 2 6 1 3 2 3 1 1 1 1 1 4 1 7 1 1 1 6 1 5 1 3 1 24 1 1 1 17 1 8 1 7 1 6 1 3 2 1 2 3 1 3 1 9 1 1 1 2 1 10 1 4 1 10 1 14 1 1 1 1 1 4 1 2 1 12 1 4 2 1 1 9 1 7 1 4 1 5 1 2 1 4 1 1 1 1 1 5 1 2 1 1 1 6 1 2 1 9 1 1 1 2 1 26 2 33 1 3 2 3 1 10 1 1 2 45 1 3 1 19 1 10 1 22 1 41 1 34 1 2 1 960"/><path d="M54 238.5h591" stroke-dasharray="1 4 1 5 1 3 1 1 1 6 3 6 1 2 1 2 4 1 1 8 1 4 2 9 1 1 1 2 1 1 1 7 1 3 1 10 1 4 1 1 3 12 2 3 2 3 1 3 2 5 1 5 2 11 1 4 1 4 1 12 1 1 1 12 1 2 2 8 1 1 2 4 2 1 3 24 1 9 1 1 1 2 2 5 1 8 1 1 1 1 1 3 1 1 4 4 1 3 2 2 1 3 1 16 1 3 1 2 1 8 1 2 1 21 2 2 1 8 2 9 1 4 1 2 1 1 1 12 1 3 1 1 1 13 1 1 1 1 1 1 1 8 1 16 1 4 1 13 1 1 1 3 1 11 1 5 1 4 1 8 1 23 1 8 1 8 1 22 1 960"/><path d="M55 239.5h685" stroke-dasharray="1 3 3 1 1 4 1 3 1 1 1 3 2 1 2 3 1 6 1 1 1 4 1 1 1 3 3 1 1 1 3 12 1 2 1 3 1 3 1 3 1 3 2 1 1 5 1 3 1 8 1 3 1 1 1 1 1 4 1 3 5 1 2 4 1 1 1 1 2 8 1 3 1 5 2 3 1 2 1 1 1 4 1 2 3 1 1 3 1 3 1 4 1 3 1 4 1 3 1 6 2 7 3 3 1 1 2 3 2 9 2 6 1 2 1 8 1 6 1 5 1 3 1 2 1 9 1 1 2 10 1 12 2 2 1 14 1 8 1 22 1 6 1 2 1 1 1 1 1 6 1 3 1 5 1 7 1 8 1 9 1 22 1 11 1 3 1 12 1 42 1 3 1 21 1 24 1 97 1 960"/><path d="M54 240.5h694" stroke-dasharray="1 3 1 5 3 3 1 2 1 1 1 5 1 1 1 1 2 6 2 2 2 2 2 11 2 3 2 6 1 4 1 10 1 1 1 3 1 1 1 1 1 4 1 1 1 1 1 3 3 10 1 3 1 1 1 1 1 6 1 9 1 5 1 5 2 1 1 4 1 2 1 7 1 1 1 7 1 4 2 3 1 1 1 4 1 3 3 1 1 9 1 2 1 4 1 13 1 1 2 1 1 9 1 2 1 9 1 3 1 2 2 2 1 3 1 5 1 7 1 16 1 3 1 4 2 22 2 1 1 1 1 13 1 5 1 5 2 4 2 2 1 1 1 12 1 10 2 5 1 2 1 2 2 14 1 15 1 4 1 4 1 2 1 8 1 2 1 12 1 5 2 24 1 3 1 9 1 6 1 8 1 1 1 45 1 16 1 31 1 28 1 960"/><path d="M51 241.5h668" stroke-dasharray="1 2 1 6 2 1 3 5 1 2 1 1 1 2 1 1 2 7 1 2 1 3 2 3 2 2 1 3 2 11 2 1 1 1 1 3 1 5 2 1 1 15 1 2 1 1 1 4 1 3 1 3 2 1 1 1 2 3 1 1 1 4 1 1 1 2 1 2 1 2 2 1 1 1 1 12 1 2 2 10 1 5 1 5 1 5 1 1 1 4 1 1 2 7 2 12 1 7 3 18 1 7 1 3 1 4 4 3 1 2 1 7 1 1 1 10 1 1 1 4 1 8 1 1 1 1 1 1 1 5 1 5 1 2 1 4 1 1 1 7 1 1 1 5 1 7 1 43 1 2 1 28 1 13 1 9 1 3 1 12 1 12 1 11 1 7 2 2 1 1 1 10 1 1 1 4 1 1 1 46 1 32 1 9 1 6 1 12 1 960"/><path d="M53 242.5h659" stroke-dasharray="3 5 1 1 1 2 4 2 4 12 1 1 1 5 1 11 2 5 3 3 1 1 2 2 1 1 2 3 5 11 1 1 1 4 2 5 1 4 2 5 1 8 1 4 1 1 1 2 1 3 1 3 1 4 1 4 1 2 1 4 1 6 2 4 1 2 1 3 1 27 1 9 1 1 1 15 1 4 1 10 3 3 1 14 2 1 2 15 1 1 1 4 2 6 1 2 2 7 1 13 1 3 1 1 1 17 1 1 1 2 1 10 1 1 1 1 1 13 1 2 2 1 1 3 1 1 1 5 1 12 1 5 1 11 1 2 1 45 1 21 1 14 1 21 1 13 1 1 1 64 1 19 1 960"/><path d="M57 243.5h697" stroke-dasharray="1 1 1 4 1 1 1 3 1 3 2 5 1 1 1 4 3 5 2 2 1 4 4 2 2 2 2 3 1 3 2 3 2 4 4 5 4 2 2 1 2 1 2 1 1 4 1 3 1 3 1 2 1 4 1 1 1 4 1 7 1 3 1 3 1 1 1 2 2 3 1 1 1 4 1 1 1 3 1 6 1 1 2 5 2 2 1 12 1 1 1 1 1 1 1 5 1 3 1 14 4 3 1 3 2 2 3 19 1 7 1 7 2 2 1 13 2 4 1 5 1 2 1 4 1 2 2 11 1 8 1 7 1 2 1 5 1 1 1 1 1 4 1 14 1 3 1 1 1 12 1 7 1 2 1 2 1 1 1 2 2 25 1 6 1 1 1 6 1 42 1 16 1 33 1 22 1 11 1 70 1 16 1 7 1 960"/><path d="M52 244.5h601" stroke-dasharray="1 2 3 1 2 7 3 1 1 2 1 4 1 1 1 2 1 3 1 1 1 2 1 1 1 1 2 1 1 3 1 3 1 1 1 5 1 8 1 1 2 1 1 4 2 7 1 3 1 3 3 4 1 1 2 4 1 2 1 6 1 2 1 4 1 5 1 4 1 1 2 2 2 4 2 4 2 9 1 3 2 6 1 4 1 6 2 3 1 3 1 1 1 3 2 1 1 8 3 2 1 4 1 22 1 2 1 6 1 1 1 1 1 12 1 3 1 2 1 10 1 3 1 1 1 26 1 3 1 4 1 2 1 12 2 12 1 1 2 1 1 6 1 1 1 12 1 3 1 9 1 8 2 10 1 2 1 9 2 2 1 43 1 2 1 1 1 15 1 62 1 17 1 960"/><path d="M55 245.5h673" stroke-dasharray="1 1 1 3 2 11 1 6 1 9 1 7 1 1 2 5 1 1 2 1 1 1 1 3 2 2 2 3 1 4 1 3 1 2 1 6 3 1 1 2 1 3 1 4 2 2 3 7 3 1 1 3 1 2 1 2 1 1 1 10 2 7 1 9 2 4 2 3 1 1 1 6 1 1 1 2 2 7 1 3 1 8 1 3 1 3 2 3 2 2 2 3 1 7 1 9 3 6 1 20 1 4 2 6 2 3 1 1 2 7 1 2 1 2 1 2 1 13 1 1 1 7 1 11 1 10 1 1 1 6 1 8 2 1 1 4 1 3 2 22 1 19 1 2 1 6 1 23 1 3 1 6 1 8 1 5 1 23 1 8 1 4 1 5 1 71 1 27 1 23 1 960"/><path d="M56 246.5h614" stroke-dasharray="2 3 2 6 2 3 1 1 1 2 1 2 1 2 2 1 1 1 1 14 1 2 1 2 2 2 1 6 1 1 1 3 1 6 2 3 1 5 2 10 1 9 1 2 1 1 3 9 1 1 2 7 3 2 1 2 1 4 2 5 1 1 1 2 1 7 1 5 1 1 1 3 1 1 1 1 1 1 2 5 1 2 1 2 2 7 1 3 1 5 1 2 2 5 1 1 1 5 1 12 1 3 2 30 1 19 1 1 1 1 1 5 2 6 1 5 3 5 1 3 1 4 1 6 1 2 1 22 1 24 1 24 1 2 1 3 1 7 1 12 1 8 1 7 2 3 1 23 1 18 1 13 1 11 1 31 1 19 1 7 1 960"/><path d="M51 247.5h690" stroke-dasharray="1 2 3 1 1 14 1 2 2 2 2 1 1 3 2 2 1 1 4 6 1 4 1 3 1 3 2 1 1 6 2 1 2 7 3 2 1 4 1 2 3 4 1 1 1 2 3 1 1 2 2 7 1 3 4 7 1 9 2 3 1 5 1 3 1 2 1 3 1 6 2 6 1 8 2 26 1 3 2 5 1 2 1 1 1 3 1 3 3 1 1 2 1 7 1 2 4 1 1 2 1 2 1 1 1 16 2 1 1 2 1 12 1 12 1 19 2 5 1 8 1 1 2 3 1 10 1 14 2 5 1 1 1 2 1 1 1 2 2 16 1 9 1 12 1 3 2 3 1 7 1 20 1 18 1 4 1 7 1 6 1 32 1 5 1 10 1 1 1 18 1 15 1 7 1 42 1 15 1 960"/><path d="M54 248.5h679" stroke-dasharray="1 4 1 11 2 7 1 2 2 1 2 8 2 4 1 1 1 2 2 2 1 14 3 4 1 1 3 5 1 3 2 2 2 2 1 1 1 5 1 2 1 3 1 1 2 1 2 2 1 2 1 2 1 1 1 9 1 2 1 4 1 9 2 15 1 14 1 3 1 10 1 21 1 2 1 9 1 1 1 2 1 7 2 2 1 2 1 2 1 2 1 6 1 1 1 6 1 1 1 4 1 3 2 6 1 2 1 6 1 3 1 4 1 1 1 7 1 7 1 7 1 7 1 1 1 8 1 7 1 2 2 13 1 12 1 6 1 34 1 21 1 1 1 1 1 1 1 6 2 6 1 13 1 17 1 5 1 1 1 32 1 7 1 43 1 16 1 28 1 14 1 960"/><path d="M51 249.5h688" stroke-dasharray="1 1 2 8 1 4 1 1 1 1 2 1 1 8 1 1 2 1 2 3 6 2 2 2 1 1 1 2 1 1 1 4 1 3 1 4 1 1 1 6 1 5 1 1 1 4 1 3 2 1 2 1 1 2 3 4 3 1 2 3 1 1 1 6 1 1 1 2 1 1 2 7 1 5 1 7 1 3 1 1 1 6 1 3 1 3 1 7 1 4 1 4 1 1 1 5 2 7 1 1 2 4 2 8 1 6 2 5 1 1 1 5 1 4 1 1 1 7 1 13 1 3 1 2 1 2 1 14 2 8 1 22 1 16 1 1 1 35 2 2 1 12 1 2 2 6 1 10 2 3 1 24 1 4 1 29 1 3 1 2 1 26 1 29 1 61 1 52 1 960"/><path d="M54 250.5h694" stroke-dasharray="1 2 1 1 2 3 1 6 2 3 1 2 1 9 1 6 1 2 2 6 2 6 1 3 3 3 1 2 1 1 1 1 1 2 2 1 2 3 1 3 1 3 2 1 1 5 1 5 2 10 2 4 2 1 1 1 1 1 1 2 1 2 2 8 2 2 1 5 1 5 3 4 1 2 1 1 1 2 1 4 2 3 4 2 1 3 1 10 1 1 2 5 2 2 1 1 1 8 1 8 1 1 1 1 1 5 1 6 1 1 1 1 1 4 1 11 1 1 1 14 1 15 1 2 1 4 1 11 1 14 2 16 1 7 1 8 1 8 1 1 1 3 1 1 1 9 1 2 1 5 1 22 1 5 2 3 1 3 1 8 1 70 1 5 2 1 1 35 1 18 1 25 1 59 1 960"/><path d="M53 251.5h643" stroke-dasharray="1 1 3 1 3 4 1 3 1 2 6 4 1 5 1 1 2 2 1 4 1 1 1 20 2 2 1 1 1 4 1 3 1 12 2 2 1 2 1 3 2 1 1 9 1 1 2 4 1 1 1 15 3 1 1 3 2 4 1 1 2 2 1 9 1 10 1 13 1 10 1 6 1 9 2 5 1 1 2 1 1 7 1 2 1 5 2 6 2 4 1 5 1 1 1 3 1 7 1 4 1 4 1 6 1 1 1 7 1 8 2 1 1 2 1 2 3 5 1 1 2 2 1 5 1 3 1 4 1 7 1 4 1 5 1 2 1 1 1 10 1 25 2 10 1 55 1 5 2 2 1 12 2 36 1 9 1 3 1 25 1 3 1 39 1 960"/><path d="M56 252.5h722" stroke-dasharray="1 1 1 1 1 4 1 2 1 14 1 1 1 3 1 1 3 9 1 3 3 4 1 1 1 1 1 3 1 5 1 1 1 1 1 1 2 2 1 5 1 1 1 6 1 3 1 2 1 3 3 1 2 1 1 1 1 7 1 2 2 1 1 4 1 4 1 3 1 4 1 3 1 4 1 1 1 6 1 1 1 3 1 1 1 1 1 4 2 1 1 3 1 2 2 8 3 1 1 1 2 6 2 7 1 4 3 8 1 2 1 10 1 10 1 6 1 7 1 7 1 7 1 7 1 2 1 5 1 6 1 5 1 1 1 8 1 3 1 7 1 8 1 6 1 4 2 1 1 5 1 9 1 15 1 4 1 2 1 2 1 18 1 8 1 3 1 28 2 5 1 5 1 29 2 16 1 11 1 20 1 11 2 29 1 95 1 8 1 960"/><path d="M54 253.5h615" stroke-dasharray="1 1 1 1 1 2 1 4 1 1 2 1 1 6 1 1 2 8 1 4 1 6 4 1 1 3 2 4 1 1 1 2 2 2 2 7 1 1 1 1 1 4 1 1 2 2 1 6 1 1 1 4 1 9 1 1 1 2 1 9 1 3 1 1 1 1 1 7 1 2 2 1 1 2 1 3 1 1 1 6 1 8 1 1 1 1 1 10 1 7 1 3 1 2 3 2 2 16 1 1 1 6 1 1 1 5 1 1 1 3 1 15 1 9 1 2 1 3 1 5 1 3 1 13 2 1 1 5 1 4 1 5 1 14 2 6 1 8 1 7 1 11 1 7 2 4 1 9 1 10 1 1 1 1 1 19 1 4 1 2 1 11 1 15 1 13 1 14 1 10 1 7 1 1 1 16 1 11 1 16 1 35 1 960"/><path d="M52 254.5h721" stroke-dasharray="2 2 2 7 1 4 1 6 1 1 1 5 1 2 1 7 1 2 1 4 1 8 1 1 1 3 1 1 4 2 1 3 1 2 1 2 2 1 1 8 3 1 1 1 1 17 1 2 1 1 3 9 2 1 1 1 1 2 1 4 1 8 1 2 1 5 1 3 2 1 2 11 3 5 1 2 1 8 1 9 1 1 1 3 1 4 1 2 2 1 1 2 1 7 1 5 1 4 1 2 1 1 1 5 1 1 1 4 1 2 1 2 1 2 1 5 1 6 1 6 1 7 2 4 1 16 1 3 1 2 1 2 1 16 1 5 1 1 1 7 1 2 1 4 1 2 1 3 1 1 1 13 1 2 2 15 1 1 1 10 1 2 1 14 1 18 1 22 2 13 1 24 1 15 1 22 2 20 1 46 1 9 1 58 1 960"/><path d="M51 255.5h673" stroke-dasharray="1 1 1 3 1 4 1 1 1 1 3 1 1 5 1 7 3 7 1 1 1 8 1 1 2 4 2 1 4 9 1 1 1 4 2 2 1 1 1 1 1 2 1 7 1 1 1 2 1 2 3 3 2 3 1 5 1 4 1 4 1 1 1 6 1 1 3 2 1 2 1 12 2 6 2 2 1 4 2 1 1 7 1 1 1 5 1 4 1 1 1 8 1 3 1 9 1 4 1 9 1 18 1 8 1 16 1 3 1 4 1 1 1 4 2 12 1 5 2 18 1 5 1 1 1 1 1 11 1 1 1 5 2 1 1 3 1 2 1 8 1 7 1 5 1 16 2 6 1 1 1 5 1 7 1 7 3 11 1 13 1 29 1 2 1 127 1 17 1 960"/><path d="M55 256.5h710" stroke-dasharray="1 7 1 4 1 3 1 2 4 3 1 3 3 4 1 1 1 1 2 6 1 3 1 4 2 11 2 3 4 4 2 2 1 6 1 2 1 1 1 1 1 1 1 8 1 5 5 3 2 1 1 2 1 1 1 2 1 3 1 4 2 2 2 3 2 13 1 3 1 1 1 2 1 3 1 2 1 4 1 6 1 1 2 5 1 2 1 8 2 5 2 2 2 1 1 16 1 1 2 1 1 4 1 10 1 8 1 18 1 3 1 4 2 1 1 5 1 1 1 1 1 2 1 7 1 4 1 5 1 10 1 13 1 2 2 17 2 14 2 2 1 10 1 4 2 8 1 54 1 15 2 22 2 14 1 74 1 9 1 74 1 960"/><path d="M51 257.5h650" stroke-dasharray="1 1 3 2 1 3 4 7 1 6 1 9 1 2 1 1 1 5 1 5 1 1 2 2 6 6 1 3 1 12 2 2 1 1 1 3 1 4 5 8 2 2 1 7 1 3 1 10 1 7 2 1 1 1 1 6 1 1 1 1 1 10 1 4 1 8 1 7 3 2 1 1 1 1 1 5 1 3 1 2 1 1 1 5 1 1 1 5 2 4 1 2 1 3 2 5 1 10 1 1 1 15 2 8 1 5 1 7 1 13 1 14 1 12 1 10 1 23 1 7 1 3 2 2 1 6 1 7 1 10 1 3 1 1 1 6 1 1 1 10 1 5 1 7 1 8 1 14 1 4 1 24 1 17 1 1 1 16 1 9 1 13 1 31 1 7 1 20 1 960"/><path d="M51 258.5h675" stroke-dasharray="1 4 1 6 1 6 1 6 2 1 1 5 2 3 1 4 1 1 1 1 1 3 1 1 2 1 1 8 1 7 2 1 1 7 2 5 2 3 1 3 1 1 1 2 1 4 2 1 2 1 1 4 1 1 3 5 1 1 2 6 1 1 1 5 1 7 2 9 1 2 1 9 2 1 1 1 1 8 1 1 2 2 1 4 1 5 1 2 2 18 2 8 2 2 2 9 1 3 1 2 1 5 2 2 1 2 1 1 1 6 1 1 1 4 1 9 1 5 1 2 1 2 1 7 1 5 1 3 1 1 1 1 1 3 1 5 1 11 2 1 1 12 1 10 1 15 2 8 1 3 1 4 1 6 1 6 1 4 1 5 1 32 1 22 1 4 1 11 1 3 1 10 1 22 1 38 1 2 1 4 1 4 1 59 1 960"/><path d="M55 259.5h652" stroke-dasharray="1 2 2 2 3 5 2 2 1 2 1 3 1 3 2 1 2 1 3 4 1 2 1 1 1 1 1 2 1 3 1 2 1 4 2 1 1 6 1 1 2 1 1 3 1 4 1 1 2 3 1 3 1 1 2 2 1 2 1 2 1 2 1 1 1 1 4 8 1 2 2 1 1 2 1 9 1 1 1 1 1 1 1 1 2 1 1 3 1 3 1 5 1 10 1 2 1 1 2 5 2 1 1 2 1 12 1 1 1 3 1 12 1 3 1 4 2 2 1 3 1 8 1 10 1 8 1 3 1 3 1 6 1 1 1 4 1 13 2 4 1 10 1 8 1 14 1 6 1 7 2 14 1 2 1 7 1 1 1 13 1 38 1 17 1 13 1 27 1 28 1 105 1 960"/><path d="M56 260.5h605" stroke-dasharray="1 2 1 2 1 3 2 3 2 1 1 2 1 18 1 6 2 1 1 1 1 5 1 4 1 1 1 3 3 5 1 1 1 5 1 1 1 4 3 7 1 4 1 4 1 14 2 8 1 1 1 2 1 3 1 1 1 6 1 1 1 1 1 2 1 1 1 2 1 6 2 6 1 1 3 3 1 11 1 5 1 2 1 2 1 5 1 10 2 7 1 3 1 8 1 7 1 1 1 12 1 7 1 16 1 6 2 14 1 11 1 5 1 1 1 6 1 3 1 6 3 6 1 7 1 1 2 1 1 8 1 3 1 7 1 5 1 12 1 1 1 9 1 12 1 2 1 4 2 13 1 16 1 18 1 95 1 960"/><path d="M51 261.5h682" stroke-dasharray="1 9 1 1 1 1 2 3 1 4 1 6 1 4 1 2 1 8 1 1 1 1 2 3 1 3 2 4 1 2 1 3 1 3 1 2 2 3 1 4 2 3 3 1 1 3 2 3 1 4 1 2 1 2 1 5 1 12 2 1 1 2 1 1 1 3 1 2 1 5 1 4 2 6 1 1 2 7 3 3 1 12 1 12 1 4 1 3 1 2 3 1 1 15 1 4 1 11 1 5 1 4 1 2 1 2 2 2 1 2 1 11 1 3 1 12 1 12 1 1 2 2 1 24 2 17 1 1 1 1 1 7 1 2 1 6 1 8 1 1 1 9 1 4 1 10 1 5 1 17 1 3 3 4 1 11 1 4 1 8 1 6 1 21 1 9 1 24 1 9 1 15 1 66 1 22 1 960"/><path d="M51 262.5h664" stroke-dasharray="2 1 1 2 2 1 1 1 1 3 1 1 1 1 1 6 1 4 1 3 2 2 2 2 1 6 2 1 1 1 1 4 1 7 4 3 1 4 1 3 1 5 1 3 1 1 1 3 3 1 1 1 1 1 1 1 3 2 1 1 1 4 1 6 1 2 2 3 2 3 2 1 1 3 1 2 1 3 1 10 1 2 2 3 2 1 2 13 1 1 1 5 1 11 1 4 1 10 2 3 1 7 1 7 1 3 1 10 1 5 1 1 1 21 2 1 2 19 1 16 1 8 1 8 1 6 2 11 1 1 1 10 2 13 1 25 1 15 1 3 1 6 1 3 1 16 1 6 1 11 1 45 1 8 1 18 1 7 1 85 1 960"/><path d="M54 263.5h690" stroke-dasharray="1 7 1 1 1 1 2 5 1 1 2 6 3 4 9 3 1 1 1 10 1 1 1 1 2 3 1 5 1 4 7 2 1 2 3 6 1 1 3 1 3 1 2 3 1 1 1 2 1 2 1 2 1 9 1 14 2 12 1 7 1 8 1 3 1 8 1 2 1 3 1 1 3 3 1 11 1 8 3 4 1 10 1 3 1 7 2 1 1 1 1 2 1 5 2 7 1 2 2 6 2 9 1 6 1 10 1 2 1 12 1 2 1 2 3 6 1 1 1 6 1 2 1 13 1 2 1 3 1 13 1 6 1 1 1 9 1 58 1 12 1 19 1 3 1 5 1 30 1 12 1 12 1 3 1 41 1 6 1 53 1 960"/><path d="M51 264.5h659" stroke-dasharray="1 2 2 2 2 3 1 2 3 3 1 3 1 5 1 8 2 1 1 3 1 5 1 6 1 1 1 1 1 5 4 3 1 3 1 1 1 1 1 1 1 1 1 4 1 6 2 6 1 1 1 2 1 3 2 2 2 4 2 7 2 4 1 4 1 4 1 2 1 2 1 3 1 1 1 1 1 2 1 2 1 4 1 2 1 2 2 11 1 4 1 2 1 6 1 1 2 8 1 1 2 1 1 7 1 2 1 1 1 2 1 4 1 1 2 6 1 1 1 2 2 2 1 16 1 8 1 1 1 8 1 4 1 6 1 1 2 11 1 9 1 16 1 3 1 6 1 8 1 1 1 7 1 7 1 1 1 6 1 1 1 3 1 6 2 34 1 8 1 1 1 13 1 16 1 15 1 8 1 9 1 3 1 21 1 6 1 9 1 58 2 10 1 10 1 960"/><path d="M51 265.5h701" stroke-dasharray="1 2 1 1 4 4 1 5 1 6 2 1 1 2 2 1 2 5 1 2 1 1 1 1 2 2 1 1 1 2 7 6 1 1 1 6 2 2 2 2 1 1 2 3 1 1 1 3 1 7 5 7 1 2 1 3 1 7 1 3 2 9 2 4 1 3 1 5 1 3 2 2 1 7 1 1 1 8 2 2 1 3 1 2 1 1 1 3 1 5 1 14 1 3 1 2 2 8 1 12 1 5 1 1 1 6 1 3 1 5 1 4 1 3 1 2 1 10 1 3 1 1 2 8 1 2 1 5 1 15 1 2 1 1 1 10 1 1 1 9 1 10 1 3 1 2 1 5 1 5 1 2 1 12 1 14 1 3 1 5 1 6 1 9 1 5 1 13 1 3 1 39 1 3 1 9 1 46 1 10 1 66 1 6 1 22 1 960"/><path d="M56 266.5h605" stroke-dasharray="1 3 1 3 1 1 2 1 2 2 1 1 2 4 1 3 3 7 2 1 1 1 5 7 1 1 3 3 1 1 1 1 2 8 1 6 1 3 1 4 1 5 1 1 1 2 1 1 1 2 1 3 1 2 1 1 1 9 2 3 1 1 1 5 2 6 1 26 1 2 3 6 1 3 1 3 2 6 1 12 1 4 1 4 1 2 1 1 1 2 1 18 1 3 1 2 1 5 1 8 1 6 1 1 1 4 1 1 1 3 1 6 1 17 1 10 1 8 1 2 1 2 1 3 2 5 1 2 3 10 1 7 3 2 1 2 1 1 2 4 1 1 1 2 1 12 1 13 1 8 1 10 2 15 1 19 1 6 1 8 1 42 2 16 1 17 1 20 1 960"/><path d="M60 267.5h507" stroke-dasharray="1 1 2 3 1 1 1 5 1 2 1 1 1 6 2 2 2 3 1 3 1 14 1 2 1 1 1 1 1 6 1 3 1 7 1 5 3 1 1 1 1 1 1 5 1 1 1 1 2 1 1 4 1 3 4 6 1 2 1 2 1 1 2 1 1 2 2 2 1 4 1 1 1 2 3 9 1 7 1 1 2 2 1 2 1 1 1 2 1 7 1 5 1 18 1 7 1 9 1 1 1 4 1 10 1 9 1 4 2 5 1 16 1 14 1 12 1 2 2 5 2 15 1 9 1 3 1 20 1 7 1 42 1 21 1 16 1 19 1 8 1 960"/><path d="M52 268.5h643" stroke-dasharray="1 3 1 9 1 5 1 3 1 1 2 1 3 6 1 1 1 5 1 1 2 3 2 2 2 5 1 8 1 1 1 3 1 4 1 1 1 2 1 2 1 9 1 1 1 2 1 9 4 5 1 12 1 7 1 7 1 3 1 1 1 4 1 4 2 7 1 22 1 4 1 3 1 2 2 6 1 2 1 1 2 13 2 1 1 4 3 5 1 1 1 3 1 11 1 3 1 2 1 4 1 12 2 39 1 11 1 16 1 1 1 4 1 3 2 31 1 2 1 8 1 1 1 1 1 6 1 24 1 26 1 11 1 14 1 7 1 45 1 7 1 61 1 960"/><path d="M52 269.5h594" stroke-dasharray="2 10 1 4 1 3 1 1 1 2 1 4 2 2 1 3 3 6 2 3 1 7 1 1 1 2 1 3 1 5 1 4 1 4 1 2 1 7 1 2 1 2 1 2 2 5 1 11 1 3 1 1 2 2 1 2 2 7 1 2 1 2 1 1 1 1 1 1 2 9 1 1 2 1 1 12 3 5 1 8 1 6 2 7 1 8 1 1 1 5 2 4 1 14 1 9 1 3 2 12 1 8 1 4 1 13 1 1 1 15 1 8 1 4 1 21 1 10 1 2 1 3 1 21 1 3 1 3 1 6 1 18 1 4 2 7 1 64 1 18 1 11 1 39 1 960"/><path d="M51 270.5h619" stroke-dasharray="1 1 1 1 1 2 1 3 2 3 1 1 1 6 1 1 1 2 1 4 1 4 1 1 1 1 1 7 1 1 1 4 1 1 1 6 1 1 1 1 1 1 1 1 1 7 1 1 1 2 1 2 2 2 2 2 1 2 1 1 2 2 1 3 1 5 1 3 1 2 1 1 1 1 1 1 1 5 1 2 1 1 1 1 2 4 1 4 1 13 1 1 1 1 2 6 1 8 1 2 1 6 2 7 1 5 2 6 1 3 1 3 1 17 1 5 1 1 1 1 1 9 1 9 1 12 1 4 1 7 2 15 1 1 1 1 1 3 1 2 1 9 1 8 1 7 1 1 1 18 1 41 1 4 1 2 1 8 1 36 1 2 2 12 1 32 1 35 1 11 1 32 1 8 1 960"/><path d="M53 271.5h661" stroke-dasharray="1 3 3 6 1 1 1 6 1 5 1 1 1 1 1 5 1 6 1 3 2 2 1 2 3 5 2 3 1 5 1 1 4 1 1 2 1 3 2 2 1 1 2 1 1 3 1 1 1 6 1 6 1 4 1 2 1 3 1 1 2 14 1 4 1 3 1 1 1 1 1 1 1 5 1 3 2 1 1 1 1 13 1 1 1 5 1 2 1 1 1 9 2 1 1 4 1 2 1 6 1 6 1 9 1 11 1 6 1 1 1 2 1 6 1 8 1 12 1 3 1 3 1 1 1 5 1 5 1 2 1 22 1 24 1 41 1 2 1 20 1 19 1 10 1 28 1 5 1 30 1 15 1 40 1 22 1 40 1 960"/><path d="M56 272.5h629" stroke-dasharray="1 5 1 2 1 4 1 6 1 1 1 3 2 3 1 6 2 2 1 8 1 2 2 3 1 3 1 6 1 2 2 3 2 2 1 1 1 1 2 4 1 4 2 1 3 1 1 3 1 4 2 7 1 2 2 5 2 1 1 5 3 13 2 7 1 16 1 2 1 3 1 18 1 2 1 1 1 3 1 8 2 10 1 7 2 18 1 2 1 10 2 4 1 16 1 7 1 7 1 3 1 9 1 7 1 5 1 10 1 14 1 7 1 19 1 34 1 25 1 25 1 7 1 1 1 60 1 66 1 960"/><path d="M52 273.5h604" stroke-dasharray="1 2 3 4 1 5 1 1 1 5 6 2 1 6 1 2 2 1 1 1 1 3 1 1 1 4 3 2 2 2 1 1 2 4 2 3 1 2 1 1 1 5 1 1 3 11 1 1 1 3 1 1 1 1 1 1 1 1 1 5 1 2 1 1 1 1 1 2 1 5 3 5 1 1 1 1 2 7 1 2 2 2 2 5 1 4 1 7 1 2 1 4 1 2 1 6 1 1 1 4 1 3 1 3 2 7 1 3 3 14 1 9 1 10 2 3 1 1 1 21 1 4 1 8 1 19 1 16 1 15 1 2 1 15 1 6 1 13 1 13 1 2 1 14 1 14 1 6 1 1 1 62 1 16 1 46 1 8 1 960"/><path d="M51 274.5h656" stroke-dasharray="1 5 2 1 1 6 1 2 2 5 1 2 1 1 1 3 1 3 1 3 2 1 1 10 1 1 1 5 1 16 1 10 1 5 1 5 1 4 2 14 1 6 1 1 1 3 1 2 1 16 1 5 1 6 3 11 1 10 1 5 1 3 1 2 1 9 1 6 1 3 1 4 1 8 1 2 1 2 1 9 1 5 2 8 1 5 1 4 1 2 1 3 1 4 2 2 1 3 1 8 1 2 1 10 1 3 1 11 1 6 1 7 2 24 1 17 1 3 1 8 1 10 1 25 1 15 2 12 1 6 1 37 1 32 1 45 1 44 1 960"/><path d="M53 275.5h543" stroke-dasharray="1 4 1 9 1 2 4 5 1 3 1 1 1 4 1 1 3 7 2 5 1 2 1 6 1 4 1 5 1 3 2 6 2 2 1 2 1 2 1 8 2 5 1 3 2 1 1 1 1 2 2 3 1 1 1 1 1 2 3 7 1 7 1 3 1 8 1 1 1 3 1 2 1 2 1 1 2 2 1 7 1 3 1 1 1 2 1 2 1 14 3 2 2 5 1 1 1 7 1 18 1 4 1 5 1 7 1 13 1 1 1 18 1 7 1 5 1 9 2 17 2 16 1 3 1 8 1 2 1 43 1 15 1 51 1 10 1 14 1 7 1 960"/><path d="M53 276.5h686" stroke-dasharray="3 1 2 7 1 3 1 2 1 3 1 7 1 2 1 4 1 4 1 2 2 1 2 10 1 6 1 2 2 2 1 7 1 4 1 1 1 3 1 5 1 4 1 2 1 2 1 2 1 3 1 2 1 5 1 2 4 1 1 2 1 6 2 2 1 1 1 1 1 3 1 1 1 1 1 4 1 2 1 1 1 2 1 5 1 3 1 4 1 16 1 1 1 4 2 3 1 11 1 9 1 5 2 1 1 6 1 7 1 6 1 9 1 11 1 7 1 1 1 7 2 7 1 1 1 10 1 10 1 6 1 12 1 5 2 4 1 2 1 4 1 2 1 4 1 13 1 2 1 7 1 10 1 3 1 13 1 10 1 17 1 9 1 6 1 52 1 16 1 55 1 16 1 12 1 8 1 25 1 960"/><path d="M51 277.5h670" stroke-dasharray="1 1 2 3 2 1 2 2 1 4 2 3 2 2 3 5 1 5 1 4 2 3 1 1 1 3 1 2 1 1 1 1 1 3 1 2 2 2 1 2 2 3 2 1 1 4 1 2 1 2 3 2 1 2 1 3 1 2 1 5 1 1 1 1 1 8 1 11 2 1 1 1 1 2 1 1 1 2 1 1 2 5 1 1 1 19 1 3 2 7 1 2 1 6 1 8 1 7 1 5 1 5 1 7 1 4 1 6 1 12 1 12 1 47 1 4 1 14 1 1 1 2 1 9 1 2 1 20 1 4 1 11 1 6 1 9 1 18 1 40 1 16 1 8 1 4 1 2 1 42 1 11 1 40 1 51 1 960"/><path d="M54 278.5h581" stroke-dasharray="1 6 1 2 2 3 1 4 1 1 1 2 1 1 3 10 2 2 1 8 1 1 1 1 1 3 2 1 1 4 1 3 1 3 1 4 1 4 1 1 2 5 1 2 1 3 3 2 2 1 1 5 1 2 1 4 3 20 1 3 1 5 2 11 1 7 1 4 1 1 1 1 2 5 1 2 1 1 2 2 1 2 1 7 1 10 1 8 1 5 1 1 1 12 1 8 1 4 1 3 2 6 1 8 1 2 1 11 1 1 1 9 1 5 1 3 1 12 1 2 1 5 1 5 1 4 1 4 1 5 1 21 1 6 1 13 1 1 1 30 1 27 1 2 1 55 1 16 1 27 1 960"/><path d="M52 279.5h610" stroke-dasharray="1 4 1 2 1 8 1 1 1 10 1 2 1 8 1 3 3 1 2 1 1 2 1 1 1 2 1 2 2 6 3 1 2 1 1 1 1 4 2 10 1 3 2 3 1 3 1 6 1 4 1 7 1 11 1 3 2 11 1 6 2 1 1 2 1 1 1 6 1 4 1 6 1 19 2 1 1 8 1 2 1 7 1 2 1 10 1 6 4 7 1 4 1 8 1 10 1 10 1 8 1 46 1 14 1 5 1 11 1 4 1 24 1 2 1 1 1 7 1 10 1 4 1 6 1 54 1 10 1 25 1 26 1 7 1 4 1 4 1 11 1 960"/><path d="M53 280.5h635" stroke-dasharray="1 4 1 1 1 6 1 3 1 1 1 2 1 9 1 2 3 1 1 3 1 5 1 2 1 1 3 3 2 1 1 1 2 5 1 3 1 1 3 1 1 2 2 4 3 1 1 1 1 15 1 3 2 8 2 2 1 4 1 1 1 2 1 3 1 7 1 2 2 4 1 7 1 6 1 1 2 3 1 6 1 5 2 4 1 1 2 4 1 7 1 15 1 16 1 5 1 8 1 11 1 4 1 14 1 15 1 8 1 1 1 5 1 4 1 1 1 1 1 14 2 7 1 16 1 17 1 50 1 20 1 7 1 13 1 5 1 28 1 27 1 16 1 22 1 35 1 960"/><path d="M51 281.5h655" stroke-dasharray="1 7 1 2 3 3 3 2 1 2 1 8 1 1 1 14 1 8 2 2 1 8 1 1 1 2 2 2 1 8 1 2 1 1 1 5 1 5 1 2 1 4 1 1 1 3 1 1 1 2 2 2 1 1 1 5 1 2 1 3 1 3 1 2 1 4 1 6 1 4 1 3 1 6 1 9 3 1 1 1 1 4 1 3 2 1 1 4 1 3 1 10 1 2 1 5 1 5 1 7 1 10 1 1 1 13 1 10 1 6 1 2 1 7 1 9 1 2 1 7 1 8 1 12 1 4 1 9 1 1 1 5 1 23 1 2 1 19 1 4 1 17 1 21 1 3 1 7 1 18 1 12 1 2 1 105 1 34 1 960"/><path d="M53 282.5h682" stroke-dasharray="1 1 1 1 1 2 1 6 1 3 1 1 1 1 1 7 1 1 1 1 2 2 3 4 1 3 1 2 1 4 1 2 1 4 1 2 1 4 1 9 1 8 1 2 1 4 1 2 1 2 2 1 1 14 2 1 1 1 1 1 1 3 1 10 2 1 1 2 1 2 1 4 1 3 1 3 3 5 1 7 1 9 1 4 1 6 1 13 1 13 2 3 1 4 1 11 3 5 1 24 1 99 1 2 1 13 1 34 3 10 1 11 1 23 1 43 1 19 1 28 1 97 1 960"/><path d="M52 283.5h558" stroke-dasharray="1 2 1 2 1 1 1 1 1 4 1 2 1 5 1 3 1 10 2 2 3 5 1 3 2 6 2 2 2 1 1 2 1 2 2 5 1 2 1 2 1 7 1 2 2 3 1 1 1 1 1 2 1 1 1 6 1 2 1 12 1 8 1 2 1 3 1 1 1 2 1 1 1 4 1 7 1 5 1 11 1 1 1 1 1 4 1 15 1 4 2 4 1 1 1 18 1 1 1 9 1 13 1 3 1 5 1 3 1 24 1 3 1 28 1 19 1 4 1 1 1 3 1 6 1 8 1 10 1 2 1 4 1 47 1 11 1 19 1 64 1 960"/><path d="M59 284.5h660" stroke-dasharray="1 3 1 4 1 6 1 4 1 2 1 5 1 6 2 3 1 4 1 3 1 14 4 7 1 10 1 1 1 4 1 4 1 1 1 2 3 8 2 2 1 2 1 7 2 12 1 9 1 1 1 17 2 1 1 2 1 2 1 10 1 1 1 8 1 5 1 2 2 1 1 21 1 5 2 18 1 4 2 11 2 3 1 8 1 5 1 20 1 20 1 9 1 11 1 25 2 5 1 5 1 11 1 17 2 124 1 23 1 16 1 29 1 8 1 15 1 960"/><path d="M57 285.5h623" stroke-dasharray="1 1 2 3 1 8 1 4 5 3 2 1 1 2 1 4 2 4 1 2 1 1 1 7 1 13 2 4 1 1 2 12 1 6 2 5 1 2 3 3 1 9 1 7 1 1 1 3 1 5 2 8 1 8 1 1 2 1 1 1 1 7 1 5 1 3 1 11 1 7 1 4 1 12 2 2 1 8 1 13 1 8 1 3 1 9 1 6 1 16 1 1 1 9 1 8 1 11 1 7 1 26 1 2 1 6 1 22 1 13 1 3 1 2 2 5 1 42 1 68 1 13 1 60 1 1 1 960"/><path d="M55 286.5h591" stroke-dasharray="2 4 1 5 1 8 1 1 1 1 1 3 1 7 1 4 2 9 3 1 1 2 1 5 1 3 1 3 1 4 1 2 1 2 1 5 2 4 1 3 2 7 1 2 1 3 1 2 1 8 1 10 2 2 1 1 1 6 1 3 1 3 1 5 3 7 2 2 1 14 1 2 1 3 1 6 1 1 1 1 1 3 1 12 2 24 1 11 1 29 1 3 1 21 1 10 1 3 1 10 1 2 1 18 1 15 1 21 1 44 1 28 1 42 1 7 2 3 1 30 1 17 1 960"/><path d="M51 287.5h524" stroke-dasharray="3 11 2 3 3 2 1 1 2 5 1 7 2 9 2 7 1 3 1 2 1 1 2 1 1 4 1 1 1 4 1 1 1 1 2 4 3 1 1 7 1 2 1 6 2 7 2 6 3 2 1 7 1 1 1 11 1 2 1 2 2 9 1 19 1 7 1 23 1 1 1 10 1 1 1 5 2 5 1 1 2 7 2 8 1 15 2 4 1 8 1 1 1 8 1 9 1 5 1 8 1 5 1 8 1 1 1 20 1 11 1 18 2 14 1 14 1 44 1 14 1 12 1 3 1 960"/><path d="M53 288.5h706" stroke-dasharray="1 3 1 1 1 3 1 5 1 1 2 3 1 7 1 13 1 7 1 1 1 4 3 5 1 4 3 5 2 9 1 1 1 7 2 7 1 2 2 3 1 9 1 2 1 8 2 1 2 2 2 13 1 3 1 7 1 1 1 3 2 14 2 4 2 15 1 7 1 10 2 3 1 10 1 12 1 13 2 31 1 7 1 10 1 2 1 8 1 12 1 8 1 8 1 5 1 54 1 5 1 16 1 26 1 27 1 6 1 56 1 124 1 960"/><path d="M61 289.5h588" stroke-dasharray="1 1 1 4 3 6 1 2 2 1 1 8 1 8 1 6 1 1 2 1 1 7 1 2 1 4 1 20 1 4 3 1 1 3 1 19 1 5 1 7 2 2 1 9 1 3 1 8 2 16 1 2 1 26 2 2 1 6 1 6 1 10 2 8 1 2 1 4 1 2 1 6 1 5 1 2 1 21 1 12 1 12 1 21 1 1 1 8 1 14 1 15 1 6 1 2 1 9 1 4 1 11 1 24 1 7 1 10 1 10 1 8 1 15 1 22 1 51 1 5 1 960"/><path d="M54 290.5h709" stroke-dasharray="1 1 2 5 2 18 1 2 1 5 1 2 4 3 1 1 1 7 2 11 1 1 1 4 1 4 1 1 1 1 2 5 2 2 1 5 1 2 2 2 1 1 1 1 1 1 2 3 1 1 1 11 1 1 1 9 1 3 1 3 1 1 2 4 2 3 1 1 1 3 1 13 1 8 1 8 1 3 1 1 1 7 1 5 1 8 1 7 1 16 1 16 1 4 1 8 1 1 1 6 1 35 1 8 1 53 1 9 1 16 1 6 1 17 1 56 1 12 1 38 1 14 1 84 1 46 1 960"/><path d="M52 291.5h714" stroke-dasharray="1 1 2 2 1 6 1 2 1 4 1 2 1 4 2 9 1 4 4 6 1 4 1 1 1 2 2 2 1 4 1 3 1 1 1 1 1 3 2 1 1 2 1 4 1 2 1 1 2 8 1 2 1 2 3 3 1 6 1 2 1 1 1 2 1 11 1 7 1 8 1 4 1 7 1 5 1 4 1 10 1 1 1 22 1 5 1 1 1 11 1 7 1 6 1 26 1 1 1 11 1 8 1 7 1 44 3 29 1 14 1 8 1 20 1 7 1 1 1 10 1 52 1 24 1 62 1 18 1 20 1 67 1 960"/><path d="M52 292.5h552" stroke-dasharray="1 2 3 6 1 3 1 1 2 1 1 11 1 6 1 2 1 9 1 1 1 3 1 3 1 8 1 2 4 5 2 8 2 1 1 2 1 1 2 4 1 8 1 4 2 1 1 8 1 1 2 9 1 5 1 7 1 15 1 2 1 1 1 3 1 5 1 1 1 5 1 1 1 4 1 52 2 9 1 14 1 3 1 45 1 37 2 9 1 2 1 28 1 38 1 14 1 33 1 45 1 960"/><path d="M51 293.5h717" stroke-dasharray="2 1 1 1 1 12 1 7 1 1 2 7 1 3 1 3 2 3 1 1 2 7 1 5 2 8 1 2 1 2 1 2 1 7 1 5 2 10 1 1 1 7 1 7 1 8 1 4 1 1 1 9 2 9 1 4 1 5 1 9 2 4 1 15 4 3 2 7 1 9 1 14 1 5 1 12 1 25 1 12 1 12 1 4 1 3 1 28 1 32 1 1 1 12 1 23 1 70 1 178 1 33 1 960"/><path d="M57 294.5h493" stroke-dasharray="1 2 1 8 1 2 1 5 2 2 1 3 1 2 4 2 1 8 1 1 1 1 1 1 1 2 1 4 1 3 1 1 1 2 1 4 1 4 3 2 1 4 1 1 1 1 1 10 1 4 1 6 1 7 1 3 1 13 1 5 1 3 1 1 1 5 1 4 1 1 1 2 1 2 1 4 1 1 1 9 1 4 1 10 1 1 1 5 1 6 1 3 1 5 1 5 1 28 1 7 1 14 1 6 1 18 1 2 1 18 2 7 1 2 1 36 1 6 1 24 1 7 1 44 1 19 1 960"/><path d="M56 295.5h639" stroke-dasharray="1 6 1 3 2 3 1 3 2 1 1 3 1 1 4 1 1 6 2 5 1 16 1 9 1 5 1 12 1 16 1 7 3 2 1 1 4 6 1 5 2 1 2 6 1 2 1 6 1 25 1 1 1 5 1 5 1 8 1 11 1 19 1 4 2 15 1 6 1 25 1 1 1 2 1 5 1 27 1 6 1 23 2 10 1 6 1 14 1 38 1 30 1 54 1 83 1 11 1 13 1 960"/><path d="M54 296.5h689" stroke-dasharray="1 5 1 3 3 1 1 2 1 5 1 1 1 6 3 4 2 1 1 2 1 6 1 2 1 2 1 2 1 2 1 1 1 3 1 4 1 2 1 2 1 9 1 7 1 3 1 9 1 1 1 1 2 3 2 8 1 2 1 3 1 2 1 3 1 2 1 9 1 4 1 12 2 4 1 10 1 11 1 8 1 27 1 12 1 19 1 2 1 3 1 23 1 20 1 2 1 17 1 7 1 13 1 19 1 49 1 21 1 7 1 13 1 62 1 75 1 63 1 960"/><path d="M51 297.5h630" stroke-dasharray="1 1 1 6 1 2 1 1 1 8 1 10 1 6 1 4 1 1 1 6 1 2 2 1 1 2 1 5 2 5 1 3 1 5 1 1 1 3 2 4 1 2 2 8 1 5 1 1 1 3 1 20 2 8 1 2 3 5 1 9 1 2 1 9 2 31 1 5 1 11 1 7 1 45 1 9 1 15 1 28 1 35 2 24 1 22 1 3 1 8 1 8 1 4 1 45 1 40 1 50 1 29 1 960"/><path d="M51 298.5h614" stroke-dasharray="1 1 2 8 1 13 3 1 1 8 1 8 1 6 1 1 1 3 1 5 1 6 1 2 1 11 1 4 1 33 1 11 1 4 1 32 1 4 1 1 1 15 1 11 2 2 1 17 1 19 1 9 1 1 1 7 1 17 1 20 1 25 1 6 2 74 1 30 1 33 1 10 1 50 1 62 1 960"/><path d="M56 299.5h658" stroke-dasharray="1 1 1 3 1 1 2 1 1 2 1 9 1 3 1 9 1 4 1 3 1 2 1 5 1 9 2 3 2 3 2 2 2 1 1 8 3 5 1 1 2 1 1 2 1 12 1 3 1 3 1 4 2 26 1 3 1 10 1 8 1 4 1 26 2 9 1 5 1 25 1 5 1 1 1 2 1 11 1 2 1 1 1 14 1 12 2 68 1 11 1 4 1 14 1 4 1 97 1 32 1 8 1 7 1 70 1 13 1 960"/><path d="M55 300.5h579" stroke-dasharray="1 1 1 4 1 2 1 3 1 6 1 2 1 5 1 1 1 1 1 5 2 3 2 4 2 15 1 5 1 10 1 2 1 3 1 1 1 4 1 11 3 8 1 3 2 27 1 11 1 4 1 13 1 4 1 1 1 31 1 2 1 1 1 3 1 6 1 7 1 3 1 19 1 28 1 23 1 25 2 8 1 2 1 24 1 10 1 41 1 48 1 13 1 7 1 21 1 41 1 960"/><path d="M59 301.5h583" stroke-dasharray="1 13 1 2 1 8 1 1 2 14 1 1 1 8 1 4 1 2 1 12 1 5 1 1 1 6 1 1 1 1 1 5 1 1 1 2 1 3 1 1 1 7 1 1 2 7 1 1 1 9 1 1 1 1 2 13 1 28 1 11 1 2 1 29 1 49 1 10 1 35 1 1 1 29 1 3 1 7 1 32 1 9 1 55 1 105 1 960"/><path d="M51 302.5h608" stroke-dasharray="1 8 1 1 1 6 2 2 1 1 1 6 1 3 1 3 1 1 1 4 1 4 1 2 1 6 1 6 1 6 1 18 1 10 1 4 1 8 1 1 1 20 1 6 1 7 1 11 1 1 1 15 1 11 1 11 2 1 1 12 1 58 1 16 1 19 1 39 1 5 1 4 1 17 1 14 1 70 1 128 1 960"/><path d="M55 303.5h513" stroke-dasharray="1 2 1 13 1 6 2 3 1 4 1 4 1 7 1 6 1 2 1 13 2 4 2 3 1 3 1 6 1 6 1 10 1 20 2 1 1 3 2 7 1 9 1 1 1 10 1 4 1 7 1 6 1 8 1 2 1 3 1 15 1 12 1 5 1 11 1 6 1 65 1 5 1 12 1 8 1 37 1 2 1 15 1 3 1 15 1 15 1 16 1 36 1 9 1 960"/><path d="M52 304.5h736" stroke-dasharray="1 5 3 22 1 9 1 2 2 1 1 10 2 10 1 3 1 36 1 9 1 31 2 13 1 9 1 49 1 4 1 21 1 92 1 2 1 5 1 24 1 77 1 8 1 124 1 49 1 90 1 960"/><path d="M52 305.5h572" stroke-dasharray="1 14 1 12 1 2 1 2 1 4 1 3 1 9 3 3 1 2 3 2 1 9 1 2 1 3 1 5 3 2 1 3 2 2 1 3 2 2 1 8 1 4 1 15 1 16 1 6 1 21 1 6 1 18 1 22 1 17 1 14 1 9 1 19 1 20 1 6 1 3 1 5 1 5 2 14 1 5 1 8 1 25 1 22 1 60 1 54 1 8 1 22 1 960"/><path d="M59 306.5h596" stroke-dasharray="1 2 1 6 3 2 4 8 2 10 1 1 1 4 1 6 1 6 1 7 1 1 1 1 3 3 1 12 1 29 2 5 1 2 1 2 1 1 1 9 1 1 1 1 1 9 2 9 1 21 1 5 1 26 1 11 1 17 1 54 1 6 1 27 1 28 1 5 1 14 1 22 1 5 1 7 1 11 1 5 1 2 1 15 1 99 1 24 1 960"/><path d="M53 307.5h559" stroke-dasharray="2 7 1 8 1 2 2 1 1 13 1 1 2 8 1 10 1 1 1 6 2 4 1 11 1 2 1 1 1 15 1 8 3 53 1 1 1 8 1 12 1 20 1 19 1 40 1 2 1 14 1 32 1 56 1 45 1 76 1 14 1 31 1 960"/><path d="M51 308.5h547" stroke-dasharray="1 7 1 5 2 8 2 4 3 9 1 11 2 1 1 4 1 4 1 9 2 2 1 6 1 49 2 13 1 9 1 10 1 8 1 3 1 6 1 9 1 11 1 27 1 61 1 14 1 73 1 12 1 1 1 62 1 24 1 47 1 960"/><path d="M54 309.5h616" stroke-dasharray="1 2 1 2 1 3 1 6 1 2 1 3 1 2 1 9 1 7 1 15 1 3 2 6 1 17 1 4 1 3 1 6 1 6 1 9 1 3 1 4 1 5 1 10 1 40 1 1 1 2 1 18 2 7 1 23 2 2 1 6 1 3 1 3 1 17 1 3 1 10 1 5 1 5 1 43 1 19 1 1 1 36 1 83 1 115 1 960"/><path d="M52 310.5h632" stroke-dasharray="1 13 1 4 1 8 1 4 1 7 1 5 1 1 3 22 1 10 1 5 1 7 2 1 1 5 1 2 1 14 1 6 1 13 1 9 1 47 1 4 2 69 1 59 1 23 1 13 1 60 1 6 2 133 1 25 1 22 1 960"/><path d="M55 311.5h672" stroke-dasharray="1 1 1 3 1 1 1 2 2 9 1 9 1 3 1 1 1 1 1 7 2 17 3 17 1 9 1 2 1 11 1 4 1 4 1 6 1 7 1 17 1 1 1 61 1 49 1 34 1 58 1 23 1 6 1 21 1 67 1 32 1 153 1 960"/><path d="M54 312.5h521" stroke-dasharray="1 4 1 9 2 2 1 8 1 2 1 6 1 8 1 6 1 2 1 2 1 9 2 20 2 13 1 2 1 10 2 4 2 26 2 27 1 10 2 26 1 4 1 14 1 53 1 49 1 42 1 115 1 13 1 960"/><path d="M54 313.5h605" stroke-dasharray="1 1 1 17 1 1 1 1 1 3 1 1 1 2 2 3 2 3 2 10 1 5 1 11 1 2 2 2 1 5 1 5 1 7 1 15 1 10 1 124 1 1 1 75 1 18 1 9 1 10 1 49 1 3 1 38 1 37 1 29 1 34 1 37 1 960"/><path d="M53 314.5h452" stroke-dasharray="1 8 1 1 1 4 1 1 1 7 1 9 2 3 1 1 1 1 1 1 1 6 1 6 1 9 1 15 2 6 1 20 1 34 1 76 1 3 1 35 1 7 1 29 1 7 1 95 1 40 1 960"/><path d="M51 315.5h626" stroke-dasharray="3 3 1 8 1 3 1 12 2 7 1 11 1 3 1 5 1 1 2 10 1 2 1 4 1 3 1 105 1 12 1 9 1 1 1 46 1 29 1 25 1 42 1 50 1 26 1 7 1 75 1 20 1 7 1 34 1 32 1 960"/><path d="M54 316.5h544" stroke-dasharray="1 5 1 7 1 1 1 3 1 8 2 2 1 6 1 9 1 4 1 2 1 3 2 2 1 10 1 25 1 9 1 59 1 51 1 46 1 16 1 50 1 30 1 6 1 13 1 7 1 15 1 11 1 114 1 960"/><path d="M59 317.5h650" stroke-dasharray="1 1 3 6 1 2 2 7 1 1 1 5 1 5 1 5 1 1 1 6 1 5 1 6 1 10 1 21 1 1 1 4 1 7 1 14 2 25 1 1 1 8 1 8 1 21 1 3 1 32 1 46 1 28 1 9 1 27 1 3 1 45 1 69 1 60 1 35 1 83 1 960"/><path d="M58 318.5h632" stroke-dasharray="1 11 1 5 1 6 1 1 1 2 1 5 1 1 1 14 1 10 1 18 1 5 1 3 1 1 1 33 1 4 2 5 1 2 2 16 1 2 1 19 2 48 1 20 1 13 1 35 1 18 1 32 1 37 1 25 1 18 1 28 1 19 1 97 1 42 1 960"/><path d="M52 319.5h486" stroke-dasharray="1 9 1 3 1 12 1 43 1 49 1 16 1 47 1 61 1 56 1 26 1 13 1 38 1 95 1 3 1 960"/><path d="M69 320.5h607" stroke-dasharray="1 1 1 44 1 11 1 3 1 39 1 5 1 21 1 2 1 8 1 32 1 21 1 31 1 5 1 74 1 26 1 71 1 19 1 150 1 24 1 960"/><path d="M52 321.5h521" stroke-dasharray="1 1 1 6 1 7 1 3 1 2 1 7 1 15 1 8 2 9 1 1 1 20 1 4 1 282 1 81 1 13 1 28 1 15 1 960"/><path d="M55 322.5h695" stroke-dasharray="1 2 1 1 1 11 2 4 1 2 1 81 1 35 1 90 1 80 1 115 1 2 1 51 1 8 1 197 1 960"/><path d="M51 323.5h481" stroke-dasharray="2 4 2 3 1 7 1 2 1 1 1 27 1 4 1 2 1 10 1 28 1 21 1 84 1 27 1 9 1 26 1 5 1 28 2 2 1 22 1 54 1 66 1 23 1 960"/><path d="M57 324.5h508" stroke-dasharray="1 15 1 5 1 4 1 5 1 4 2 1 1 13 1 7 1 9 1 6 1 3 1 25 1 8 1 35 1 17 2 3 1 12 1 16 1 48 1 26 1 61 1 45 1 13 1 6 1 93 1 960"/><path d="M57 325.5h702" stroke-dasharray="1 6 1 13 1 1 1 8 3 4 1 6 1 1 1 9 1 1 2 16 1 10 1 263 1 22 1 146 1 55 1 121 1 960"/><path d="M52 326.5h682" stroke-dasharray="3 6 1 19 1 4 3 2 1 18 1 41 2 30 1 12 1 81 1 68 1 384 1 960"/><path d="M59 327.5h537" stroke-dasharray="1 5 1 3 1 9 1 6 1 21 1 14 1 270 1 22 1 177 1 960"/><path d="M54 328.5h399" stroke-dasharray="1 2 1 13 1 7 1 7 1 9 2 12 1 5 1 22 1 234 1 9 1 30 1 21 1 13 1 960"/><path d="M52 329.5h284" stroke-dasharray="1 9 1 15 1 10 1 9 1 14 1 11 1 158 1 27 1 21 1 960"/><path d="M426 330.5h196" stroke-dasharray="1 43 1 150 1 960"/><path d="M72 331.5h370" stroke-dasharray="1 4 1 3 1 39 1 14 1 2 1 14 1 101 1 14 1 169 1 960"/><path d="M69 332.5h339" stroke-dasharray="1 9 1 6 1 11 1 34 1 9 1 73 1 111 1 14 1 51 1 10 1 960"/><path d="M59 333.5h479" stroke-dasharray="1 4 1 8 1 36 1 13 1 23 1 24 1 14 1 4 1 46 1 8 1 6 1 50 1 16 1 17 1 92 1 101 1 960"/><path d="M51 334.5h347" stroke-dasharray="1 2 1 3 1 7 1 3 1 5 1 5 1 27 1 10 1 123 1 56 1 94 1 960"/><path d="M53 335.5h478" stroke-dasharray="1 7 1 65 1 42 1 47 1 14 1 20 1 51 1 58 1 11 1 42 1 109 1 960"/><path d="M64 336.5h268" stroke-dasharray="1 61 1 93 1 1 1 38 1 9 1 39 1 19 1 960"/><path d="M89 338.5h548" stroke-dasharray="1 13 1 313 1 25 1 100 1 91 1 960"/><path d="M52 339.5h313" stroke-dasharray="1 3 1 5 1 44 1 9 1 34 1 16 1 2 1 75 1 36 1 78 1 960"/><path d="M478 340.5h1" stroke-dasharray="1 960"/><path d="M101 341.5h380" stroke-dasharray="1 23 1 2 1 351 1 960"/><path d="M54 342.5h591" stroke-dasharray="1 4 1 361 1 222 1 960"/><path d="M51 343.5h399" stroke-dasharray="2 74 1 7 1 14 1 34 1 160 1 102 1 960"/><path d="M58 344.5h405" stroke-dasharray="1 9 1 393 1 960"/><path d="M121 346.5h564" stroke-dasharray="1 168 1 393 1 960"/><path d="M292 347.5h1" stroke-dasharray="1 960"/><path d="M51 349.5h118" stroke-dasharray="1 116 1 960"/><path d="M52 350.5h322" stroke-dasharray="1 2 1 317 1 960"/><path d="M59 351.5h1" stroke-dasharray="1 960"/><path d="M56 352.5h1" stroke-dasharray="1 960"/><path d="M53 353.5h37" stroke-dasharray="1 35 1 960"/><path d="M360 354.5h1" stroke-dasharray="1 960"/><path d="M54 357.5h1" stroke-dasharray="1 960"/><path d="M129 383.5h456" stroke-dasharray="1 142 1 311 1 960"/><path d="M158 388.5h557" stroke-dasharray="1 123 1 18 1 37 1 148 1 78 1 31 1 32 1 81 1 960"/></g><polyline points="51.3,281 52.3,258 54.3,238.2 55.2,237.4 57.2,239.4 61.6,235.1 68.1,244.1 72.5,233.5 79.4,240.4 84.7,232.25 87.5,242.25 91.25,235.4 99.4,244.75 103.75,231.3 108,238.2 113,237.9 124.25,234.2 129.25,241.1 133,235.4 136.1,236.4 141.1,232.9 146.4,238.6 153,234.2 158.6,230.4 162.4,237.3 169.75,228.7 175.4,229.3 180.1,224.3 184.75,228.1 189.1,229.3 194.75,226.2 199.1,227.1 204.75,230.6 209.75,226.2 216,229.9 220.4,228.4 225,224.8 233.4,226.4 244.6,225.3 249.6,228.75 254.6,224.25 260.25,225 265.6,222.2 270.25,225.3 280.9,218.4 286.4,227.9 297,224.1 308.25,224.1 313.9,225.1 319.5,220.25 325.75,226.3 332.3,221.3 337.3,227.9 345,218.9 350,217 356.25,221.4 366.25,218.25 376.25,216.1 385.6,219.5 390.6,212.3 397.5,215.1 404.25,215.6 411.4,221.25 418.6,218.1 425.5,218.1 431.75,215.3 439.9,213.4 447.4,219.4 458,216.9 463.5,215.8 471.6,213.3 479.75,216.4 487.9,211.25 497.25,213.3 508.5,208.6 516,207.6 528.4,202.1 539,208.1 549.6,210.75 563.4,203.1 574,207.4 576.1,208.3 584.5,204.9 592,203 602,202.4 618.9,196.1 630,198.4 636.25,199.3 645.6,197.1 656.25,194.5 673.75,193.5 682.8,193.4 712.2,202.4 788.6,149.4" fill="none" stroke="#56b4e9" stroke-width="1" stroke-linejoin="round"/><path d="M50.5 36.5H938.5V393.5H50.5ZM86.5 37v2M86.5 393v-2M121.5 37v2M121.5 393v-2M157.5 37v2M157.5 393v-2M192.5 37v2M192.5 393v-2M228.5 37v4M228.5 393v-4M263.5 37v2M263.5 393v-2M299.5 37v2M299.5 393v-2M334.5 37v2M334.5 393v-2M370.5 37v2M370.5 393v-2M405.5 37v4M405.5 393v-4M441.5 37v2M441.5 393v-2M476.5 37v2M476.5 393v-2M512.5 37v2M512.5 393v-2M547.5 37v2M547.5 393v-2M582.5 37v4M582.5 393v-4M618.5 37v2M618.5 393v-2M653.5 37v2M653.5 393v-2M689.5 37v2M689.5 393v-2M724.5 37v2M724.5 393v-2M760.5 37v4M760.5 393v-4M795.5 37v2M795.5 393v-2M831.5 37v2M831.5 393v-2M866.5 37v2M866.5 393v-2M902.5 37v2M902.5 393v-2M51 371.5h2M938 371.5h-2M51 348.5h4M938 348.5h-4M51 326.5h2M938 326.5h-2M51 304.5h4M938 304.5h-4M51 281.5h2M938 281.5h-2M51 259.5h4M938 259.5h-4M51 237.5h2M938 237.5h-2M51 214.5h4M938 214.5h-4M51 192.5h2M938 192.5h-2M51 170.5h4M938 170.5h-4M51 148.5h2M938 148.5h-2M51 125.5h4M938 125.5h-4M51 103.5h2M938 103.5h-2M51 81.5h4M938 81.5h-4M51 58.5h2M938 58.5h-2" stroke="#000" stroke-width="1" fill="none"/><text x="42.5" y="396" text-anchor="end">0</text><text x="42.5" y="351" text-anchor="end">2</text><text x="42.5" y="307" text-anchor="end">4</text><text x="42.5" y="262" text-anchor="end">6</text><text x="42.5" y="217" text-anchor="end">8</text><text x="42.5" y="173" text-anchor="end">10</text><text x="42.5" y="128" text-anchor="end">12</text><text x="42.5" y="84" text-anchor="end">14</text><text x="42.5" y="39" text-anchor="end">16</text><text x="50.5" y="408" text-anchor="middle">0</text><text x="228.5" y="408" text-anchor="middle">50000</text><text x="405.5" y="408" text-anchor="middle">100000</text><text x="583.5" y="408" text-anchor="middle">150000</text><text x="760.5" y="408" text-anchor="middle">200000</text><text x="938.5" y="408" text-anchor="middle">250000</text><text x="357.8" y="21" textLength="272.8" lengthAdjust="spacingAndGlyphs">[elm3a63] Adaptec 8k 3x73GB 10k 3.5" RAID0 SAS</text><text x="441.6" y="426" textLength="103.4" lengthAdjust="spacingAndGlyphs">Seek distance (MB)</text><text transform="translate(13 260.6) rotate(-90)" x="0" y="0" textLength="91.8" lengthAdjust="spacingAndGlyphs">Seek Speed (ms)</text></svg></body></html>
